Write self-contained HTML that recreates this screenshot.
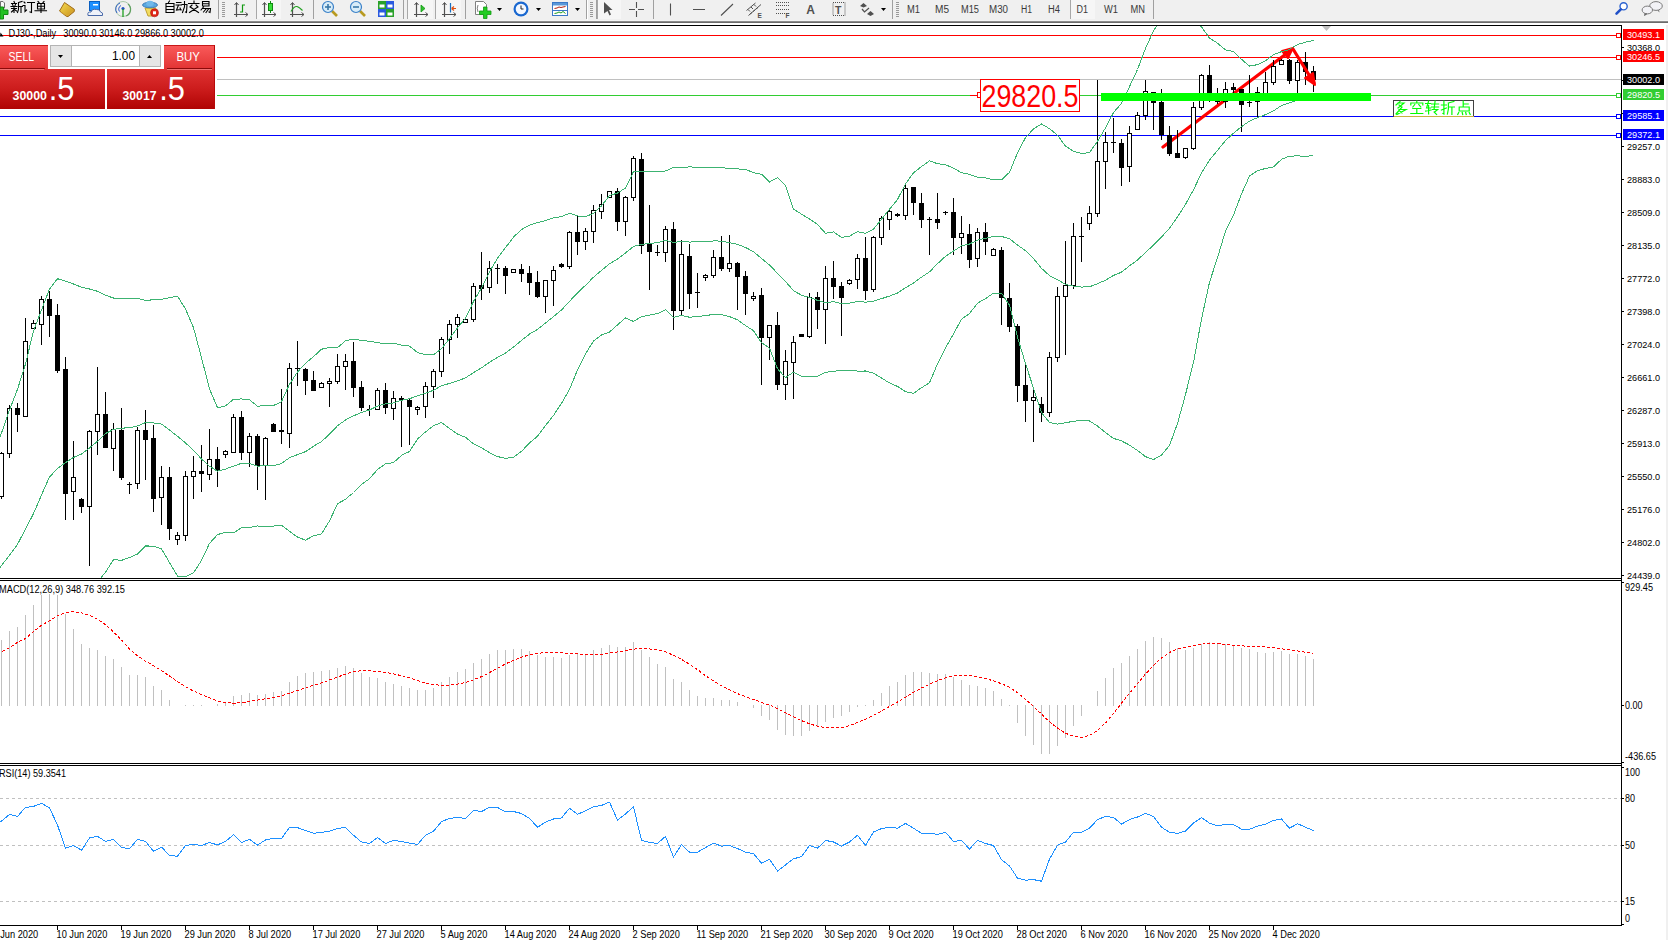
<!DOCTYPE html>
<html><head><meta charset="utf-8"><style>
html,body{margin:0;padding:0;background:#fff;}
svg{display:block;font-family:"Liberation Sans", sans-serif;}
</style></head><body>
<svg width="1668" height="940" viewBox="0 0 1668 940" shape-rendering="crispEdges">
<defs><clipPath id="mainclip"><rect x="0" y="26" width="1621" height="552"/></clipPath></defs>
<rect x="0" y="0" width="1668" height="940" fill="#ffffff" />
<g clip-path="url(#mainclip)">
<rect x="0" y="35" width="1621" height="1" fill="#ff0000" />
<rect x="0" y="57" width="1621" height="1" fill="#ff0000" />
<rect x="0" y="79" width="1621" height="1" fill="#c0c0c0" />
<rect x="0" y="95" width="1621" height="1" fill="#32cd32" />
<rect x="0" y="116" width="1621" height="1" fill="#0000ff" />
<rect x="0" y="135" width="1621" height="1" fill="#0000ff" />
<rect x="1616" y="33" width="5" height="5" fill="#ff0000" />
<rect x="1617" y="34" width="3" height="3" fill="#ffffff" />
<rect x="1616" y="55" width="5" height="5" fill="#ff0000" />
<rect x="1617" y="56" width="3" height="3" fill="#ffffff" />
<rect x="1616" y="93" width="5" height="5" fill="#32cd32" />
<rect x="1617" y="94" width="3" height="3" fill="#ffffff" />
<rect x="1616" y="114" width="5" height="5" fill="#0000ff" />
<rect x="1617" y="115" width="3" height="3" fill="#ffffff" />
<rect x="1616" y="133" width="5" height="5" fill="#0000ff" />
<rect x="1617" y="134" width="3" height="3" fill="#ffffff" />
<g shape-rendering="auto">
<path d="M1163,147 L1290,51" stroke="#ff0000" stroke-width="3.2" stroke-linecap="round" fill="none"/>
<path d="M1282,51 L1293,48 L1288,58 Z" fill="#ff0000" stroke="#ff0000" stroke-width="2" stroke-linejoin="round"/>
</g>
<rect x="1" y="452" width="1" height="47" fill="#000" />
<rect x="-1" y="453" width="5" height="44" fill="#000" />
<rect x="0" y="454" width="3" height="42" fill="#fff" />
<rect x="9" y="405" width="1" height="53" fill="#000" />
<rect x="7" y="408" width="5" height="46" fill="#000" />
<rect x="8" y="409" width="3" height="44" fill="#fff" />
<rect x="17" y="403" width="1" height="29" fill="#000" />
<rect x="15" y="408" width="5" height="7" fill="#000" />
<rect x="25" y="318" width="1" height="99" fill="#000" />
<rect x="23" y="341" width="5" height="76" fill="#000" />
<rect x="24" y="342" width="3" height="74" fill="#fff" />
<rect x="33" y="320" width="1" height="9" fill="#000" />
<rect x="31" y="323" width="5" height="6" fill="#000" />
<rect x="32" y="324" width="3" height="4" fill="#fff" />
<rect x="41" y="296" width="1" height="49" fill="#000" />
<rect x="39" y="299" width="5" height="26" fill="#000" />
<rect x="40" y="300" width="3" height="24" fill="#fff" />
<rect x="49" y="291" width="1" height="46" fill="#000" />
<rect x="47" y="299" width="5" height="17" fill="#000" />
<rect x="57" y="304" width="1" height="69" fill="#000" />
<rect x="55" y="315" width="5" height="56" fill="#000" />
<rect x="65" y="357" width="1" height="163" fill="#000" />
<rect x="63" y="369" width="5" height="125" fill="#000" />
<rect x="73" y="441" width="1" height="79" fill="#000" />
<rect x="71" y="477" width="5" height="15" fill="#000" />
<rect x="72" y="478" width="3" height="13" fill="#fff" />
<rect x="81" y="498" width="1" height="15" fill="#000" />
<rect x="79" y="499" width="5" height="8" fill="#000" />
<rect x="89" y="430" width="1" height="136" fill="#000" />
<rect x="87" y="431" width="5" height="76" fill="#000" />
<rect x="88" y="432" width="3" height="74" fill="#fff" />
<rect x="97" y="367" width="1" height="88" fill="#000" />
<rect x="95" y="414" width="5" height="18" fill="#000" />
<rect x="96" y="415" width="3" height="16" fill="#fff" />
<rect x="105" y="392" width="1" height="56" fill="#000" />
<rect x="103" y="414" width="5" height="34" fill="#000" />
<rect x="113" y="423" width="1" height="48" fill="#000" />
<rect x="111" y="429" width="5" height="20" fill="#000" />
<rect x="112" y="430" width="3" height="18" fill="#fff" />
<rect x="121" y="408" width="1" height="72" fill="#000" />
<rect x="119" y="430" width="5" height="48" fill="#000" />
<rect x="129" y="482" width="1" height="12" fill="#000" />
<rect x="127" y="484" width="5" height="1" fill="#000" />
<rect x="137" y="427" width="1" height="62" fill="#000" />
<rect x="135" y="430" width="5" height="54" fill="#000" />
<rect x="136" y="431" width="3" height="52" fill="#fff" />
<rect x="145" y="410" width="1" height="70" fill="#000" />
<rect x="143" y="430" width="5" height="10" fill="#000" />
<rect x="153" y="425" width="1" height="87" fill="#000" />
<rect x="151" y="438" width="5" height="61" fill="#000" />
<rect x="161" y="466" width="1" height="59" fill="#000" />
<rect x="159" y="477" width="5" height="21" fill="#000" />
<rect x="160" y="478" width="3" height="19" fill="#fff" />
<rect x="169" y="467" width="1" height="73" fill="#000" />
<rect x="167" y="477" width="5" height="52" fill="#000" />
<rect x="177" y="532" width="1" height="13" fill="#000" />
<rect x="175" y="535" width="5" height="5" fill="#000" />
<rect x="176" y="536" width="3" height="3" fill="#fff" />
<rect x="185" y="471" width="1" height="70" fill="#000" />
<rect x="183" y="476" width="5" height="60" fill="#000" />
<rect x="184" y="477" width="3" height="58" fill="#fff" />
<rect x="193" y="456" width="1" height="43" fill="#000" />
<rect x="191" y="471" width="5" height="6" fill="#000" />
<rect x="192" y="472" width="3" height="4" fill="#fff" />
<rect x="201" y="445" width="1" height="47" fill="#000" />
<rect x="199" y="471" width="5" height="3" fill="#000" />
<rect x="209" y="429" width="1" height="51" fill="#000" />
<rect x="207" y="459" width="5" height="16" fill="#000" />
<rect x="208" y="460" width="3" height="14" fill="#fff" />
<rect x="217" y="447" width="1" height="40" fill="#000" />
<rect x="215" y="459" width="5" height="11" fill="#000" />
<rect x="225" y="450" width="1" height="8" fill="#000" />
<rect x="223" y="451" width="5" height="4" fill="#000" />
<rect x="224" y="452" width="3" height="2" fill="#fff" />
<rect x="233" y="414" width="1" height="39" fill="#000" />
<rect x="231" y="417" width="5" height="36" fill="#000" />
<rect x="232" y="418" width="3" height="34" fill="#fff" />
<rect x="241" y="411" width="1" height="49" fill="#000" />
<rect x="239" y="417" width="5" height="36" fill="#000" />
<rect x="249" y="433" width="1" height="34" fill="#000" />
<rect x="247" y="436" width="5" height="17" fill="#000" />
<rect x="248" y="437" width="3" height="15" fill="#fff" />
<rect x="257" y="434" width="1" height="56" fill="#000" />
<rect x="255" y="436" width="5" height="30" fill="#000" />
<rect x="265" y="437" width="1" height="63" fill="#000" />
<rect x="263" y="438" width="5" height="28" fill="#000" />
<rect x="264" y="439" width="3" height="26" fill="#fff" />
<rect x="273" y="423" width="1" height="9" fill="#000" />
<rect x="271" y="424" width="5" height="8" fill="#000" />
<rect x="281" y="389" width="1" height="55" fill="#000" />
<rect x="279" y="430" width="5" height="2" fill="#000" />
<rect x="289" y="363" width="1" height="85" fill="#000" />
<rect x="287" y="368" width="5" height="66" fill="#000" />
<rect x="288" y="369" width="3" height="64" fill="#fff" />
<rect x="297" y="341" width="1" height="45" fill="#000" />
<rect x="295" y="368" width="5" height="1" fill="#000" />
<rect x="305" y="368" width="1" height="27" fill="#000" />
<rect x="303" y="369" width="5" height="12" fill="#000" />
<rect x="313" y="371" width="1" height="20" fill="#000" />
<rect x="311" y="380" width="5" height="11" fill="#000" />
<rect x="321" y="382" width="1" height="6" fill="#000" />
<rect x="319" y="383" width="5" height="5" fill="#000" />
<rect x="320" y="384" width="3" height="3" fill="#fff" />
<rect x="329" y="378" width="1" height="29" fill="#000" />
<rect x="327" y="381" width="5" height="3" fill="#000" />
<rect x="328" y="382" width="3" height="1" fill="#fff" />
<rect x="337" y="354" width="1" height="30" fill="#000" />
<rect x="335" y="366" width="5" height="16" fill="#000" />
<rect x="336" y="367" width="3" height="14" fill="#fff" />
<rect x="345" y="354" width="1" height="36" fill="#000" />
<rect x="343" y="361" width="5" height="6" fill="#000" />
<rect x="344" y="362" width="3" height="4" fill="#fff" />
<rect x="353" y="342" width="1" height="55" fill="#000" />
<rect x="351" y="361" width="5" height="27" fill="#000" />
<rect x="361" y="381" width="1" height="30" fill="#000" />
<rect x="359" y="387" width="5" height="21" fill="#000" />
<rect x="369" y="405" width="1" height="11" fill="#000" />
<rect x="367" y="409" width="5" height="1" fill="#000" />
<rect x="377" y="388" width="1" height="22" fill="#000" />
<rect x="375" y="390" width="5" height="20" fill="#000" />
<rect x="376" y="391" width="3" height="18" fill="#fff" />
<rect x="385" y="383" width="1" height="31" fill="#000" />
<rect x="383" y="390" width="5" height="18" fill="#000" />
<rect x="393" y="391" width="1" height="29" fill="#000" />
<rect x="391" y="398" width="5" height="11" fill="#000" />
<rect x="392" y="399" width="3" height="9" fill="#fff" />
<rect x="401" y="396" width="1" height="51" fill="#000" />
<rect x="399" y="398" width="5" height="2" fill="#000" />
<rect x="409" y="399" width="1" height="46" fill="#000" />
<rect x="407" y="400" width="5" height="7" fill="#000" />
<rect x="417" y="406" width="1" height="9" fill="#000" />
<rect x="415" y="407" width="5" height="3" fill="#000" />
<rect x="416" y="408" width="3" height="1" fill="#fff" />
<rect x="425" y="382" width="1" height="36" fill="#000" />
<rect x="423" y="386" width="5" height="21" fill="#000" />
<rect x="424" y="387" width="3" height="19" fill="#fff" />
<rect x="433" y="369" width="1" height="29" fill="#000" />
<rect x="431" y="371" width="5" height="16" fill="#000" />
<rect x="432" y="372" width="3" height="14" fill="#fff" />
<rect x="441" y="337" width="1" height="40" fill="#000" />
<rect x="439" y="339" width="5" height="33" fill="#000" />
<rect x="440" y="340" width="3" height="31" fill="#fff" />
<rect x="449" y="320" width="1" height="34" fill="#000" />
<rect x="447" y="324" width="5" height="16" fill="#000" />
<rect x="448" y="325" width="3" height="14" fill="#fff" />
<rect x="457" y="314" width="1" height="24" fill="#000" />
<rect x="455" y="317" width="5" height="8" fill="#000" />
<rect x="456" y="318" width="3" height="6" fill="#fff" />
<rect x="465" y="319" width="1" height="4" fill="#000" />
<rect x="463" y="319" width="5" height="4" fill="#000" />
<rect x="464" y="320" width="3" height="2" fill="#fff" />
<rect x="473" y="283" width="1" height="39" fill="#000" />
<rect x="471" y="286" width="5" height="34" fill="#000" />
<rect x="472" y="287" width="3" height="32" fill="#fff" />
<rect x="481" y="252" width="1" height="48" fill="#000" />
<rect x="479" y="285" width="5" height="4" fill="#000" />
<rect x="489" y="261" width="1" height="32" fill="#000" />
<rect x="487" y="268" width="5" height="20" fill="#000" />
<rect x="488" y="269" width="3" height="18" fill="#fff" />
<rect x="497" y="264" width="1" height="20" fill="#000" />
<rect x="495" y="268" width="5" height="1" fill="#000" />
<rect x="505" y="266" width="1" height="28" fill="#000" />
<rect x="503" y="268" width="5" height="8" fill="#000" />
<rect x="513" y="269" width="1" height="4" fill="#000" />
<rect x="511" y="269" width="5" height="4" fill="#000" />
<rect x="512" y="270" width="3" height="2" fill="#fff" />
<rect x="521" y="264" width="1" height="18" fill="#000" />
<rect x="519" y="269" width="5" height="5" fill="#000" />
<rect x="529" y="266" width="1" height="29" fill="#000" />
<rect x="527" y="273" width="5" height="10" fill="#000" />
<rect x="537" y="271" width="1" height="27" fill="#000" />
<rect x="535" y="282" width="5" height="15" fill="#000" />
<rect x="545" y="280" width="1" height="33" fill="#000" />
<rect x="543" y="280" width="5" height="17" fill="#000" />
<rect x="544" y="281" width="3" height="15" fill="#fff" />
<rect x="553" y="266" width="1" height="40" fill="#000" />
<rect x="551" y="270" width="5" height="11" fill="#000" />
<rect x="552" y="271" width="3" height="9" fill="#fff" />
<rect x="561" y="263" width="1" height="5" fill="#000" />
<rect x="559" y="264" width="5" height="3" fill="#000" />
<rect x="569" y="231" width="1" height="38" fill="#000" />
<rect x="567" y="232" width="5" height="35" fill="#000" />
<rect x="568" y="233" width="3" height="33" fill="#fff" />
<rect x="577" y="215" width="1" height="40" fill="#000" />
<rect x="575" y="232" width="5" height="10" fill="#000" />
<rect x="585" y="228" width="1" height="22" fill="#000" />
<rect x="583" y="231" width="5" height="11" fill="#000" />
<rect x="584" y="232" width="3" height="9" fill="#fff" />
<rect x="593" y="205" width="1" height="38" fill="#000" />
<rect x="591" y="210" width="5" height="22" fill="#000" />
<rect x="592" y="211" width="3" height="20" fill="#fff" />
<rect x="601" y="194" width="1" height="25" fill="#000" />
<rect x="599" y="204" width="5" height="8" fill="#000" />
<rect x="600" y="205" width="3" height="6" fill="#fff" />
<rect x="609" y="191" width="1" height="7" fill="#000" />
<rect x="607" y="191" width="5" height="7" fill="#000" />
<rect x="608" y="192" width="3" height="5" fill="#fff" />
<rect x="617" y="188" width="1" height="43" fill="#000" />
<rect x="615" y="191" width="5" height="31" fill="#000" />
<rect x="625" y="196" width="1" height="40" fill="#000" />
<rect x="623" y="197" width="5" height="25" fill="#000" />
<rect x="624" y="198" width="3" height="23" fill="#fff" />
<rect x="633" y="156" width="1" height="45" fill="#000" />
<rect x="631" y="158" width="5" height="40" fill="#000" />
<rect x="632" y="159" width="3" height="38" fill="#fff" />
<rect x="641" y="153" width="1" height="101" fill="#000" />
<rect x="639" y="159" width="5" height="87" fill="#000" />
<rect x="649" y="205" width="1" height="85" fill="#000" />
<rect x="647" y="244" width="5" height="8" fill="#000" />
<rect x="657" y="245" width="1" height="11" fill="#000" />
<rect x="655" y="252" width="5" height="1" fill="#000" />
<rect x="665" y="226" width="1" height="36" fill="#000" />
<rect x="663" y="229" width="5" height="24" fill="#000" />
<rect x="664" y="230" width="3" height="22" fill="#fff" />
<rect x="673" y="222" width="1" height="108" fill="#000" />
<rect x="671" y="229" width="5" height="82" fill="#000" />
<rect x="681" y="240" width="1" height="75" fill="#000" />
<rect x="679" y="254" width="5" height="57" fill="#000" />
<rect x="680" y="255" width="3" height="55" fill="#fff" />
<rect x="689" y="244" width="1" height="65" fill="#000" />
<rect x="687" y="256" width="5" height="38" fill="#000" />
<rect x="697" y="273" width="1" height="35" fill="#000" />
<rect x="695" y="292" width="5" height="1" fill="#000" />
<rect x="705" y="274" width="1" height="7" fill="#000" />
<rect x="703" y="275" width="5" height="3" fill="#000" />
<rect x="704" y="276" width="3" height="1" fill="#fff" />
<rect x="713" y="250" width="1" height="28" fill="#000" />
<rect x="711" y="257" width="5" height="19" fill="#000" />
<rect x="712" y="258" width="3" height="17" fill="#fff" />
<rect x="721" y="236" width="1" height="35" fill="#000" />
<rect x="719" y="257" width="5" height="12" fill="#000" />
<rect x="729" y="235" width="1" height="37" fill="#000" />
<rect x="727" y="263" width="5" height="6" fill="#000" />
<rect x="728" y="264" width="3" height="4" fill="#fff" />
<rect x="737" y="262" width="1" height="48" fill="#000" />
<rect x="735" y="263" width="5" height="14" fill="#000" />
<rect x="745" y="271" width="1" height="44" fill="#000" />
<rect x="743" y="276" width="5" height="18" fill="#000" />
<rect x="753" y="292" width="1" height="9" fill="#000" />
<rect x="751" y="296" width="5" height="3" fill="#000" />
<rect x="752" y="297" width="3" height="1" fill="#fff" />
<rect x="761" y="288" width="1" height="97" fill="#000" />
<rect x="759" y="295" width="5" height="43" fill="#000" />
<rect x="769" y="325" width="1" height="35" fill="#000" />
<rect x="767" y="325" width="5" height="13" fill="#000" />
<rect x="768" y="326" width="3" height="11" fill="#fff" />
<rect x="777" y="312" width="1" height="78" fill="#000" />
<rect x="775" y="325" width="5" height="60" fill="#000" />
<rect x="785" y="350" width="1" height="50" fill="#000" />
<rect x="783" y="361" width="5" height="24" fill="#000" />
<rect x="784" y="362" width="3" height="22" fill="#fff" />
<rect x="793" y="336" width="1" height="63" fill="#000" />
<rect x="791" y="342" width="5" height="21" fill="#000" />
<rect x="792" y="343" width="3" height="19" fill="#fff" />
<rect x="801" y="334" width="1" height="3" fill="#000" />
<rect x="799" y="334" width="5" height="3" fill="#000" />
<rect x="809" y="293" width="1" height="45" fill="#000" />
<rect x="807" y="297" width="5" height="40" fill="#000" />
<rect x="808" y="298" width="3" height="38" fill="#fff" />
<rect x="817" y="292" width="1" height="37" fill="#000" />
<rect x="815" y="297" width="5" height="13" fill="#000" />
<rect x="825" y="266" width="1" height="78" fill="#000" />
<rect x="823" y="278" width="5" height="32" fill="#000" />
<rect x="824" y="279" width="3" height="30" fill="#fff" />
<rect x="833" y="261" width="1" height="38" fill="#000" />
<rect x="831" y="278" width="5" height="9" fill="#000" />
<rect x="841" y="282" width="1" height="54" fill="#000" />
<rect x="839" y="286" width="5" height="12" fill="#000" />
<rect x="849" y="279" width="1" height="6" fill="#000" />
<rect x="847" y="280" width="5" height="4" fill="#000" />
<rect x="848" y="281" width="3" height="2" fill="#fff" />
<rect x="857" y="254" width="1" height="35" fill="#000" />
<rect x="855" y="258" width="5" height="22" fill="#000" />
<rect x="856" y="259" width="3" height="20" fill="#fff" />
<rect x="865" y="237" width="1" height="63" fill="#000" />
<rect x="863" y="258" width="5" height="33" fill="#000" />
<rect x="873" y="236" width="1" height="56" fill="#000" />
<rect x="871" y="237" width="5" height="53" fill="#000" />
<rect x="872" y="238" width="3" height="51" fill="#fff" />
<rect x="881" y="216" width="1" height="29" fill="#000" />
<rect x="879" y="218" width="5" height="20" fill="#000" />
<rect x="880" y="219" width="3" height="18" fill="#fff" />
<rect x="889" y="209" width="1" height="21" fill="#000" />
<rect x="887" y="211" width="5" height="9" fill="#000" />
<rect x="888" y="212" width="3" height="7" fill="#fff" />
<rect x="897" y="213" width="1" height="4" fill="#000" />
<rect x="895" y="214" width="5" height="2" fill="#000" />
<rect x="905" y="183" width="1" height="37" fill="#000" />
<rect x="903" y="188" width="5" height="28" fill="#000" />
<rect x="904" y="189" width="3" height="26" fill="#fff" />
<rect x="913" y="187" width="1" height="28" fill="#000" />
<rect x="911" y="187" width="5" height="16" fill="#000" />
<rect x="921" y="193" width="1" height="35" fill="#000" />
<rect x="919" y="203" width="5" height="17" fill="#000" />
<rect x="929" y="217" width="1" height="38" fill="#000" />
<rect x="927" y="219" width="5" height="1" fill="#000" />
<rect x="937" y="193" width="1" height="36" fill="#000" />
<rect x="935" y="219" width="5" height="4" fill="#000" />
<rect x="945" y="211" width="1" height="4" fill="#000" />
<rect x="943" y="212" width="5" height="1" fill="#000" />
<rect x="953" y="198" width="1" height="57" fill="#000" />
<rect x="951" y="212" width="5" height="26" fill="#000" />
<rect x="961" y="216" width="1" height="38" fill="#000" />
<rect x="959" y="233" width="5" height="5" fill="#000" />
<rect x="960" y="234" width="3" height="3" fill="#fff" />
<rect x="969" y="224" width="1" height="44" fill="#000" />
<rect x="967" y="234" width="5" height="26" fill="#000" />
<rect x="977" y="228" width="1" height="39" fill="#000" />
<rect x="975" y="232" width="5" height="27" fill="#000" />
<rect x="976" y="233" width="3" height="25" fill="#fff" />
<rect x="985" y="223" width="1" height="32" fill="#000" />
<rect x="983" y="232" width="5" height="10" fill="#000" />
<rect x="993" y="248" width="1" height="8" fill="#000" />
<rect x="991" y="249" width="5" height="7" fill="#000" />
<rect x="992" y="250" width="3" height="5" fill="#fff" />
<rect x="1001" y="247" width="1" height="78" fill="#000" />
<rect x="999" y="250" width="5" height="48" fill="#000" />
<rect x="1009" y="283" width="1" height="49" fill="#000" />
<rect x="1007" y="298" width="5" height="29" fill="#000" />
<rect x="1017" y="324" width="1" height="78" fill="#000" />
<rect x="1015" y="326" width="5" height="60" fill="#000" />
<rect x="1025" y="364" width="1" height="58" fill="#000" />
<rect x="1023" y="385" width="5" height="16" fill="#000" />
<rect x="1033" y="390" width="1" height="52" fill="#000" />
<rect x="1031" y="397" width="5" height="4" fill="#000" />
<rect x="1032" y="398" width="3" height="2" fill="#fff" />
<rect x="1041" y="397" width="1" height="25" fill="#000" />
<rect x="1039" y="404" width="5" height="9" fill="#000" />
<rect x="1049" y="352" width="1" height="65" fill="#000" />
<rect x="1047" y="357" width="5" height="56" fill="#000" />
<rect x="1048" y="358" width="3" height="54" fill="#fff" />
<rect x="1057" y="287" width="1" height="75" fill="#000" />
<rect x="1055" y="296" width="5" height="62" fill="#000" />
<rect x="1056" y="297" width="3" height="60" fill="#fff" />
<rect x="1065" y="241" width="1" height="114" fill="#000" />
<rect x="1063" y="285" width="5" height="12" fill="#000" />
<rect x="1064" y="286" width="3" height="10" fill="#fff" />
<rect x="1073" y="223" width="1" height="66" fill="#000" />
<rect x="1071" y="236" width="5" height="50" fill="#000" />
<rect x="1072" y="237" width="3" height="48" fill="#fff" />
<rect x="1081" y="217" width="1" height="45" fill="#000" />
<rect x="1079" y="236" width="5" height="1" fill="#000" />
<rect x="1089" y="206" width="1" height="24" fill="#000" />
<rect x="1087" y="213" width="5" height="11" fill="#000" />
<rect x="1088" y="214" width="3" height="9" fill="#fff" />
<rect x="1097" y="80" width="1" height="137" fill="#000" />
<rect x="1095" y="161" width="5" height="53" fill="#000" />
<rect x="1096" y="162" width="3" height="51" fill="#fff" />
<rect x="1105" y="132" width="1" height="57" fill="#000" />
<rect x="1103" y="142" width="5" height="20" fill="#000" />
<rect x="1104" y="143" width="3" height="18" fill="#fff" />
<rect x="1113" y="118" width="1" height="35" fill="#000" />
<rect x="1111" y="142" width="5" height="1" fill="#000" />
<rect x="1121" y="139" width="1" height="47" fill="#000" />
<rect x="1119" y="143" width="5" height="25" fill="#000" />
<rect x="1129" y="126" width="1" height="56" fill="#000" />
<rect x="1127" y="133" width="5" height="34" fill="#000" />
<rect x="1128" y="134" width="3" height="32" fill="#fff" />
<rect x="1137" y="112" width="1" height="18" fill="#000" />
<rect x="1135" y="115" width="5" height="15" fill="#000" />
<rect x="1136" y="116" width="3" height="13" fill="#fff" />
<rect x="1145" y="80" width="1" height="40" fill="#000" />
<rect x="1143" y="91" width="5" height="25" fill="#000" />
<rect x="1144" y="92" width="3" height="23" fill="#fff" />
<rect x="1153" y="92" width="1" height="38" fill="#000" />
<rect x="1151" y="92" width="5" height="11" fill="#000" />
<rect x="1161" y="89" width="1" height="51" fill="#000" />
<rect x="1159" y="102" width="5" height="33" fill="#000" />
<rect x="1169" y="126" width="1" height="30" fill="#000" />
<rect x="1167" y="135" width="5" height="19" fill="#000" />
<rect x="1177" y="130" width="1" height="28" fill="#000" />
<rect x="1175" y="153" width="5" height="5" fill="#000" />
<rect x="1185" y="148" width="1" height="11" fill="#000" />
<rect x="1183" y="148" width="5" height="10" fill="#000" />
<rect x="1184" y="149" width="3" height="8" fill="#fff" />
<rect x="1193" y="102" width="1" height="48" fill="#000" />
<rect x="1191" y="107" width="5" height="42" fill="#000" />
<rect x="1192" y="108" width="3" height="40" fill="#fff" />
<rect x="1201" y="74" width="1" height="36" fill="#000" />
<rect x="1199" y="75" width="5" height="33" fill="#000" />
<rect x="1200" y="76" width="3" height="31" fill="#fff" />
<rect x="1209" y="65" width="1" height="37" fill="#000" />
<rect x="1207" y="75" width="5" height="26" fill="#000" />
<rect x="1217" y="88" width="1" height="16" fill="#000" />
<rect x="1215" y="95" width="5" height="7" fill="#000" />
<rect x="1225" y="82" width="1" height="26" fill="#000" />
<rect x="1223" y="89" width="5" height="13" fill="#000" />
<rect x="1224" y="90" width="3" height="11" fill="#fff" />
<rect x="1233" y="83" width="1" height="12" fill="#000" />
<rect x="1231" y="87" width="5" height="3" fill="#000" />
<rect x="1241" y="89" width="1" height="43" fill="#000" />
<rect x="1239" y="89" width="5" height="16" fill="#000" />
<rect x="1249" y="75" width="1" height="32" fill="#000" />
<rect x="1247" y="102" width="5" height="1" fill="#000" />
<rect x="1257" y="87" width="1" height="30" fill="#000" />
<rect x="1255" y="92" width="5" height="10" fill="#000" />
<rect x="1256" y="93" width="3" height="8" fill="#fff" />
<rect x="1265" y="72" width="1" height="29" fill="#000" />
<rect x="1263" y="82" width="5" height="13" fill="#000" />
<rect x="1264" y="83" width="3" height="11" fill="#fff" />
<rect x="1273" y="60" width="1" height="25" fill="#000" />
<rect x="1271" y="66" width="5" height="17" fill="#000" />
<rect x="1272" y="67" width="3" height="15" fill="#fff" />
<rect x="1281" y="59" width="1" height="6" fill="#000" />
<rect x="1279" y="60" width="5" height="5" fill="#000" />
<rect x="1280" y="61" width="3" height="3" fill="#fff" />
<rect x="1289" y="59" width="1" height="25" fill="#000" />
<rect x="1287" y="60" width="5" height="21" fill="#000" />
<rect x="1297" y="60" width="1" height="33" fill="#000" />
<rect x="1295" y="62" width="5" height="19" fill="#000" />
<rect x="1296" y="63" width="3" height="17" fill="#fff" />
<rect x="1305" y="52" width="1" height="33" fill="#000" />
<rect x="1303" y="62" width="5" height="10" fill="#000" />
<rect x="1313" y="66" width="1" height="26" fill="#000" />
<rect x="1311" y="71" width="5" height="9" fill="#000" />
<polyline points="-6.50,456.00 1.50,433.00 9.50,410.00 17.50,389.30 25.50,364.00 33.50,331.00 41.50,310.00 49.50,289.00 57.50,278.70 65.50,281.20 73.50,284.00 81.50,287.20 89.50,289.00 97.50,291.30 105.50,295.30 113.50,298.00 121.50,298.00 129.50,298.00 137.50,298.40 145.50,300.40 153.50,299.77 161.50,299.35 169.50,297.62 177.50,296.23 185.50,309.00 193.50,327.73 201.50,357.61 209.50,389.04 217.50,407.70 225.50,405.92 233.50,399.22 241.50,398.95 249.50,399.66 257.50,406.31 265.50,405.18 273.50,405.51 281.50,401.68 289.50,384.19 297.50,372.08 305.50,363.18 313.50,356.70 321.50,349.23 329.50,347.51 337.50,347.68 345.50,340.80 353.50,339.10 361.50,340.48 369.50,341.28 377.50,342.59 385.50,343.89 393.50,343.23 401.50,345.09 409.50,346.04 417.50,352.61 425.50,354.57 433.50,354.73 441.50,348.88 449.50,338.49 457.50,327.79 465.50,318.37 473.50,301.47 481.50,288.09 489.50,271.80 497.50,258.16 505.50,247.69 513.50,237.06 521.50,229.56 529.50,225.22 537.50,222.57 545.50,220.53 553.50,217.86 561.50,216.66 569.50,213.27 577.50,215.98 585.50,216.69 593.50,213.40 601.50,205.88 609.50,195.57 617.50,193.09 625.50,187.94 633.50,171.59 641.50,171.96 649.50,171.86 657.50,171.85 665.50,170.98 673.50,167.51 681.50,167.69 689.50,166.87 697.50,167.24 705.50,167.47 713.50,167.62 721.50,167.58 729.50,168.61 737.50,168.91 745.50,169.33 753.50,172.77 761.50,174.23 769.50,181.97 777.50,177.77 785.50,185.24 793.50,209.16 801.50,214.14 809.50,218.96 817.50,224.46 825.50,233.32 833.50,231.87 841.50,237.39 849.50,236.10 857.50,231.74 865.50,233.30 873.50,229.22 881.50,219.27 889.50,209.18 897.50,199.56 905.50,183.81 913.50,172.80 921.50,166.56 929.50,160.88 937.50,163.74 945.50,164.68 953.50,168.18 961.50,172.67 969.50,174.34 977.50,177.20 985.50,177.85 993.50,179.87 1001.50,179.87 1009.50,172.31 1017.50,153.00 1025.50,137.56 1033.50,128.97 1041.50,123.93 1049.50,128.71 1057.50,135.17 1065.50,146.20 1073.50,151.18 1081.50,153.51 1089.50,152.58 1097.50,141.31 1105.50,127.88 1113.50,112.55 1121.50,103.41 1129.50,86.61 1137.50,69.50 1145.50,48.36 1153.50,30.78 1161.50,18.85 1169.50,11.36 1177.50,10.48 1185.50,14.11 1193.50,17.32 1201.50,26.95 1209.50,38.03 1217.50,43.15 1225.50,49.99 1233.50,51.54 1241.50,59.30 1249.50,66.14 1257.50,64.64 1265.50,60.82 1273.50,54.73 1281.50,51.65 1289.50,49.56 1297.50,44.48 1305.50,42.18 1313.50,40.42" fill="none" stroke="#3cb371" stroke-width="1" />
<polyline points="-6.50,576.00 1.50,565.50 9.50,555.30 17.50,544.30 25.50,529.00 33.50,513.60 41.50,495.00 49.50,477.00 57.50,468.50 65.50,462.60 73.50,457.40 81.50,454.00 89.50,448.00 97.50,441.30 105.50,433.60 113.50,429.40 121.50,428.20 129.50,427.70 137.50,426.00 145.50,422.60 153.50,422.90 161.50,424.10 169.50,430.10 177.50,436.15 185.50,442.90 193.50,450.30 201.50,459.00 209.50,466.20 217.50,471.15 225.50,469.05 233.50,466.05 241.50,463.35 249.50,463.60 257.50,466.15 265.50,465.70 273.50,465.80 281.50,463.50 289.50,457.70 297.50,454.60 305.50,451.65 313.50,446.25 321.50,441.55 329.50,434.20 337.50,425.75 345.50,420.00 353.50,415.80 361.50,412.50 369.50,410.00 377.50,406.05 385.50,403.85 393.50,402.90 401.50,400.25 409.50,398.75 417.50,395.85 425.50,393.25 433.50,390.25 441.50,385.65 449.50,383.45 457.50,380.90 465.50,377.85 473.50,372.65 481.50,367.90 489.50,362.25 497.50,357.35 505.50,353.05 513.50,347.15 521.50,340.45 529.50,334.10 537.50,329.40 545.50,323.05 553.50,316.65 561.50,310.00 569.50,301.30 577.50,293.00 585.50,285.25 593.50,277.20 601.50,270.45 609.50,263.80 617.50,259.00 625.50,252.90 633.50,246.50 641.50,244.35 649.50,243.50 657.50,242.70 665.50,240.40 673.50,242.45 681.50,241.50 689.50,242.05 697.50,241.85 705.50,241.60 713.50,240.95 721.50,241.05 729.50,242.60 737.50,244.35 745.50,247.45 753.50,251.75 761.50,258.40 769.50,265.10 777.50,273.25 785.50,281.45 793.50,290.65 801.50,295.20 809.50,297.50 817.50,300.35 825.50,302.80 833.50,301.60 841.50,303.75 849.50,303.10 857.50,301.40 865.50,302.15 873.50,301.15 881.50,298.65 889.50,296.05 897.50,293.00 905.50,287.75 913.50,283.05 921.50,277.15 929.50,271.85 937.50,263.75 945.50,256.30 953.50,251.05 961.50,245.90 969.50,244.00 977.50,240.15 985.50,238.30 993.50,236.45 1001.50,236.45 1009.50,238.75 1017.50,245.10 1025.50,250.60 1033.50,258.60 1041.50,268.30 1049.50,275.60 1057.50,279.65 1065.50,284.50 1073.50,286.20 1081.50,287.05 1089.50,286.75 1097.50,283.70 1105.50,280.20 1113.50,275.45 1121.50,272.15 1129.50,265.85 1137.50,260.00 1145.50,252.50 1153.50,245.15 1161.50,237.00 1169.50,228.35 1177.50,216.95 1185.50,204.35 1193.50,189.85 1201.50,173.00 1209.50,160.15 1217.50,150.40 1225.50,140.60 1233.50,133.25 1241.50,126.65 1249.50,121.10 1257.50,117.65 1265.50,114.65 1273.50,110.85 1281.50,105.50 1289.50,102.85 1297.50,100.20 1305.50,99.20 1313.50,98.05" fill="none" stroke="#3cb371" stroke-width="1" />
<polyline points="97.50,582.00 105.50,572.30 113.50,559.60 121.50,560.40 129.50,557.50 137.50,554.00 145.50,546.00 153.50,546.03 161.50,548.85 169.50,562.58 177.50,576.07 185.50,576.80 193.50,572.87 201.50,560.39 209.50,543.36 217.50,534.60 225.50,532.18 233.50,532.88 241.50,527.75 249.50,527.54 257.50,525.99 265.50,526.22 273.50,526.09 281.50,525.32 289.50,531.21 297.50,537.12 305.50,540.12 313.50,535.80 321.50,533.87 329.50,520.89 337.50,503.82 345.50,499.20 353.50,492.50 361.50,484.52 369.50,478.72 377.50,469.51 385.50,463.81 393.50,462.57 401.50,455.41 409.50,451.46 417.50,439.09 425.50,431.93 433.50,425.77 441.50,422.42 449.50,428.41 457.50,434.01 465.50,437.33 473.50,443.83 481.50,447.71 489.50,452.70 497.50,456.54 505.50,458.41 513.50,457.24 521.50,451.34 529.50,442.98 537.50,436.23 545.50,425.57 553.50,415.44 561.50,403.34 569.50,389.33 577.50,370.02 585.50,353.81 593.50,341.00 601.50,335.02 609.50,332.03 617.50,324.91 625.50,317.86 633.50,321.41 641.50,316.74 649.50,315.14 657.50,313.55 665.50,309.82 673.50,317.39 681.50,315.31 689.50,317.23 697.50,316.46 705.50,315.73 713.50,314.28 721.50,314.52 729.50,316.59 737.50,319.79 745.50,325.57 753.50,330.73 761.50,342.57 769.50,348.23 777.50,368.73 785.50,377.66 793.50,372.14 801.50,376.26 809.50,376.04 817.50,376.24 825.50,372.28 833.50,371.33 841.50,370.11 849.50,370.10 857.50,371.06 865.50,371.00 873.50,373.08 881.50,378.03 889.50,382.92 897.50,386.44 905.50,391.69 913.50,393.30 921.50,387.74 929.50,382.82 937.50,363.76 945.50,347.92 953.50,333.92 961.50,319.13 969.50,313.66 977.50,303.10 985.50,298.75 993.50,293.03 1001.50,293.03 1009.50,305.19 1017.50,337.20 1025.50,363.64 1033.50,388.23 1041.50,412.67 1049.50,422.49 1057.50,424.13 1065.50,422.80 1073.50,421.22 1081.50,420.59 1089.50,420.92 1097.50,426.09 1105.50,432.52 1113.50,438.35 1121.50,440.89 1129.50,445.09 1137.50,450.50 1145.50,456.64 1153.50,459.52 1161.50,455.15 1169.50,445.34 1177.50,423.42 1185.50,394.59 1193.50,362.38 1201.50,319.05 1209.50,282.27 1217.50,257.65 1225.50,231.21 1233.50,214.96 1241.50,194.00 1249.50,176.06 1257.50,170.66 1265.50,168.48 1273.50,166.97 1281.50,159.35 1289.50,156.14 1297.50,155.92 1305.50,156.22 1313.50,155.68" fill="none" stroke="#3cb371" stroke-width="1" />
</g>
<rect x="1" y="640" width="1" height="66" fill="#c0c0c0" />
<rect x="9" y="631" width="1" height="75" fill="#c0c0c0" />
<rect x="17" y="627" width="1" height="79" fill="#c0c0c0" />
<rect x="25" y="615" width="1" height="91" fill="#c0c0c0" />
<rect x="33" y="605" width="1" height="101" fill="#c0c0c0" />
<rect x="41" y="595" width="1" height="111" fill="#c0c0c0" />
<rect x="49" y="594" width="1" height="112" fill="#c0c0c0" />
<rect x="57" y="595" width="1" height="111" fill="#c0c0c0" />
<rect x="65" y="614" width="1" height="92" fill="#c0c0c0" />
<rect x="73" y="629" width="1" height="77" fill="#c0c0c0" />
<rect x="81" y="644" width="1" height="62" fill="#c0c0c0" />
<rect x="89" y="648" width="1" height="58" fill="#c0c0c0" />
<rect x="97" y="650" width="1" height="56" fill="#c0c0c0" />
<rect x="105" y="656" width="1" height="50" fill="#c0c0c0" />
<rect x="113" y="659" width="1" height="47" fill="#c0c0c0" />
<rect x="121" y="667" width="1" height="39" fill="#c0c0c0" />
<rect x="129" y="675" width="1" height="31" fill="#c0c0c0" />
<rect x="137" y="675" width="1" height="31" fill="#c0c0c0" />
<rect x="145" y="677" width="1" height="29" fill="#c0c0c0" />
<rect x="153" y="686" width="1" height="20" fill="#c0c0c0" />
<rect x="161" y="690" width="1" height="16" fill="#c0c0c0" />
<rect x="169" y="700" width="1" height="6" fill="#c0c0c0" />
<rect x="185" y="705" width="1" height="1" fill="#c0c0c0" />
<rect x="193" y="705" width="1" height="1" fill="#c0c0c0" />
<rect x="201" y="705" width="1" height="1" fill="#c0c0c0" />
<rect x="217" y="704" width="1" height="2" fill="#c0c0c0" />
<rect x="225" y="702" width="1" height="4" fill="#c0c0c0" />
<rect x="233" y="696" width="1" height="10" fill="#c0c0c0" />
<rect x="241" y="695" width="1" height="11" fill="#c0c0c0" />
<rect x="249" y="693" width="1" height="13" fill="#c0c0c0" />
<rect x="257" y="695" width="1" height="11" fill="#c0c0c0" />
<rect x="265" y="694" width="1" height="12" fill="#c0c0c0" />
<rect x="273" y="692" width="1" height="14" fill="#c0c0c0" />
<rect x="281" y="691" width="1" height="15" fill="#c0c0c0" />
<rect x="289" y="682" width="1" height="24" fill="#c0c0c0" />
<rect x="297" y="676" width="1" height="30" fill="#c0c0c0" />
<rect x="305" y="673" width="1" height="33" fill="#c0c0c0" />
<rect x="313" y="672" width="1" height="34" fill="#c0c0c0" />
<rect x="321" y="671" width="1" height="35" fill="#c0c0c0" />
<rect x="329" y="670" width="1" height="36" fill="#c0c0c0" />
<rect x="337" y="668" width="1" height="38" fill="#c0c0c0" />
<rect x="345" y="666" width="1" height="40" fill="#c0c0c0" />
<rect x="353" y="668" width="1" height="38" fill="#c0c0c0" />
<rect x="361" y="673" width="1" height="33" fill="#c0c0c0" />
<rect x="369" y="677" width="1" height="29" fill="#c0c0c0" />
<rect x="377" y="678" width="1" height="28" fill="#c0c0c0" />
<rect x="385" y="682" width="1" height="24" fill="#c0c0c0" />
<rect x="393" y="684" width="1" height="22" fill="#c0c0c0" />
<rect x="401" y="686" width="1" height="20" fill="#c0c0c0" />
<rect x="409" y="688" width="1" height="18" fill="#c0c0c0" />
<rect x="417" y="690" width="1" height="16" fill="#c0c0c0" />
<rect x="425" y="690" width="1" height="16" fill="#c0c0c0" />
<rect x="433" y="688" width="1" height="18" fill="#c0c0c0" />
<rect x="441" y="682" width="1" height="24" fill="#c0c0c0" />
<rect x="449" y="677" width="1" height="29" fill="#c0c0c0" />
<rect x="457" y="672" width="1" height="34" fill="#c0c0c0" />
<rect x="465" y="669" width="1" height="37" fill="#c0c0c0" />
<rect x="473" y="663" width="1" height="43" fill="#c0c0c0" />
<rect x="481" y="659" width="1" height="47" fill="#c0c0c0" />
<rect x="489" y="654" width="1" height="52" fill="#c0c0c0" />
<rect x="497" y="650" width="1" height="56" fill="#c0c0c0" />
<rect x="505" y="650" width="1" height="56" fill="#c0c0c0" />
<rect x="513" y="649" width="1" height="57" fill="#c0c0c0" />
<rect x="521" y="649" width="1" height="57" fill="#c0c0c0" />
<rect x="529" y="651" width="1" height="55" fill="#c0c0c0" />
<rect x="537" y="655" width="1" height="51" fill="#c0c0c0" />
<rect x="545" y="657" width="1" height="49" fill="#c0c0c0" />
<rect x="553" y="657" width="1" height="49" fill="#c0c0c0" />
<rect x="561" y="658" width="1" height="48" fill="#c0c0c0" />
<rect x="569" y="655" width="1" height="51" fill="#c0c0c0" />
<rect x="577" y="654" width="1" height="52" fill="#c0c0c0" />
<rect x="585" y="654" width="1" height="52" fill="#c0c0c0" />
<rect x="593" y="650" width="1" height="56" fill="#c0c0c0" />
<rect x="601" y="648" width="1" height="58" fill="#c0c0c0" />
<rect x="609" y="645" width="1" height="61" fill="#c0c0c0" />
<rect x="617" y="647" width="1" height="59" fill="#c0c0c0" />
<rect x="625" y="647" width="1" height="59" fill="#c0c0c0" />
<rect x="633" y="642" width="1" height="64" fill="#c0c0c0" />
<rect x="641" y="650" width="1" height="56" fill="#c0c0c0" />
<rect x="649" y="657" width="1" height="49" fill="#c0c0c0" />
<rect x="657" y="664" width="1" height="42" fill="#c0c0c0" />
<rect x="665" y="667" width="1" height="39" fill="#c0c0c0" />
<rect x="673" y="679" width="1" height="27" fill="#c0c0c0" />
<rect x="681" y="682" width="1" height="24" fill="#c0c0c0" />
<rect x="689" y="690" width="1" height="16" fill="#c0c0c0" />
<rect x="697" y="696" width="1" height="10" fill="#c0c0c0" />
<rect x="705" y="698" width="1" height="8" fill="#c0c0c0" />
<rect x="713" y="698" width="1" height="8" fill="#c0c0c0" />
<rect x="721" y="700" width="1" height="6" fill="#c0c0c0" />
<rect x="729" y="700" width="1" height="6" fill="#c0c0c0" />
<rect x="737" y="702" width="1" height="4" fill="#c0c0c0" />
<rect x="753" y="705" width="1" height="3" fill="#c0c0c0" />
<rect x="761" y="705" width="1" height="11" fill="#c0c0c0" />
<rect x="769" y="705" width="1" height="15" fill="#c0c0c0" />
<rect x="777" y="705" width="1" height="25" fill="#c0c0c0" />
<rect x="785" y="705" width="1" height="30" fill="#c0c0c0" />
<rect x="793" y="705" width="1" height="31" fill="#c0c0c0" />
<rect x="801" y="705" width="1" height="31" fill="#c0c0c0" />
<rect x="809" y="705" width="1" height="26" fill="#c0c0c0" />
<rect x="817" y="705" width="1" height="22" fill="#c0c0c0" />
<rect x="825" y="705" width="1" height="17" fill="#c0c0c0" />
<rect x="833" y="705" width="1" height="13" fill="#c0c0c0" />
<rect x="841" y="705" width="1" height="11" fill="#c0c0c0" />
<rect x="849" y="705" width="1" height="7" fill="#c0c0c0" />
<rect x="857" y="705" width="1" height="2" fill="#c0c0c0" />
<rect x="865" y="705" width="1" height="1" fill="#c0c0c0" />
<rect x="873" y="700" width="1" height="6" fill="#c0c0c0" />
<rect x="881" y="693" width="1" height="13" fill="#c0c0c0" />
<rect x="889" y="686" width="1" height="20" fill="#c0c0c0" />
<rect x="897" y="682" width="1" height="24" fill="#c0c0c0" />
<rect x="905" y="675" width="1" height="31" fill="#c0c0c0" />
<rect x="913" y="672" width="1" height="34" fill="#c0c0c0" />
<rect x="921" y="672" width="1" height="34" fill="#c0c0c0" />
<rect x="929" y="673" width="1" height="33" fill="#c0c0c0" />
<rect x="937" y="674" width="1" height="32" fill="#c0c0c0" />
<rect x="945" y="674" width="1" height="32" fill="#c0c0c0" />
<rect x="953" y="677" width="1" height="29" fill="#c0c0c0" />
<rect x="961" y="680" width="1" height="26" fill="#c0c0c0" />
<rect x="969" y="685" width="1" height="21" fill="#c0c0c0" />
<rect x="977" y="686" width="1" height="20" fill="#c0c0c0" />
<rect x="985" y="688" width="1" height="18" fill="#c0c0c0" />
<rect x="993" y="691" width="1" height="15" fill="#c0c0c0" />
<rect x="1001" y="699" width="1" height="7" fill="#c0c0c0" />
<rect x="1009" y="705" width="1" height="1" fill="#c0c0c0" />
<rect x="1017" y="705" width="1" height="18" fill="#c0c0c0" />
<rect x="1025" y="705" width="1" height="31" fill="#c0c0c0" />
<rect x="1033" y="705" width="1" height="40" fill="#c0c0c0" />
<rect x="1041" y="705" width="1" height="49" fill="#c0c0c0" />
<rect x="1049" y="705" width="1" height="49" fill="#c0c0c0" />
<rect x="1057" y="705" width="1" height="41" fill="#c0c0c0" />
<rect x="1065" y="705" width="1" height="33" fill="#c0c0c0" />
<rect x="1073" y="705" width="1" height="21" fill="#c0c0c0" />
<rect x="1081" y="705" width="1" height="11" fill="#c0c0c0" />
<rect x="1097" y="691" width="1" height="15" fill="#c0c0c0" />
<rect x="1105" y="678" width="1" height="28" fill="#c0c0c0" />
<rect x="1113" y="668" width="1" height="38" fill="#c0c0c0" />
<rect x="1121" y="663" width="1" height="43" fill="#c0c0c0" />
<rect x="1129" y="656" width="1" height="50" fill="#c0c0c0" />
<rect x="1137" y="649" width="1" height="57" fill="#c0c0c0" />
<rect x="1145" y="641" width="1" height="65" fill="#c0c0c0" />
<rect x="1153" y="637" width="1" height="69" fill="#c0c0c0" />
<rect x="1161" y="638" width="1" height="68" fill="#c0c0c0" />
<rect x="1169" y="642" width="1" height="64" fill="#c0c0c0" />
<rect x="1177" y="648" width="1" height="58" fill="#c0c0c0" />
<rect x="1185" y="650" width="1" height="56" fill="#c0c0c0" />
<rect x="1193" y="648" width="1" height="58" fill="#c0c0c0" />
<rect x="1201" y="644" width="1" height="62" fill="#c0c0c0" />
<rect x="1209" y="642" width="1" height="64" fill="#c0c0c0" />
<rect x="1217" y="643" width="1" height="63" fill="#c0c0c0" />
<rect x="1225" y="644" width="1" height="62" fill="#c0c0c0" />
<rect x="1233" y="645" width="1" height="61" fill="#c0c0c0" />
<rect x="1241" y="648" width="1" height="58" fill="#c0c0c0" />
<rect x="1249" y="649" width="1" height="57" fill="#c0c0c0" />
<rect x="1257" y="652" width="1" height="54" fill="#c0c0c0" />
<rect x="1265" y="653" width="1" height="53" fill="#c0c0c0" />
<rect x="1273" y="652" width="1" height="54" fill="#c0c0c0" />
<rect x="1281" y="651" width="1" height="55" fill="#c0c0c0" />
<rect x="1289" y="654" width="1" height="52" fill="#c0c0c0" />
<rect x="1297" y="654" width="1" height="52" fill="#c0c0c0" />
<rect x="1305" y="656" width="1" height="50" fill="#c0c0c0" />
<rect x="1313" y="659" width="1" height="47" fill="#c0c0c0" />
<polyline points="-6.50,656.50 1.50,651.90 9.50,647.90 17.50,642.30 25.50,638.50 33.50,631.50 41.50,625.30 49.50,620.70 57.50,615.60 65.50,612.79 73.50,611.52 81.50,612.91 89.50,615.19 97.50,619.10 105.50,624.78 113.50,631.90 121.50,640.06 129.50,648.94 137.50,655.73 145.50,661.09 153.50,665.80 161.50,670.51 169.50,676.03 177.50,681.48 185.50,686.70 193.50,691.04 201.50,694.50 209.50,697.84 217.50,700.82 225.50,702.57 233.50,703.23 241.50,702.71 249.50,701.38 257.50,700.16 265.50,698.82 273.50,697.27 281.50,695.71 289.50,693.28 297.50,690.41 305.50,687.84 313.50,685.28 321.50,682.82 329.50,680.03 337.50,677.13 345.50,674.23 353.50,671.67 361.50,670.68 369.50,670.79 377.50,671.34 385.50,672.44 393.50,673.90 401.50,675.69 409.50,677.92 417.50,680.60 425.50,683.06 433.50,684.73 441.50,685.28 449.50,685.17 457.50,684.07 465.50,682.39 473.50,679.82 481.50,676.60 489.50,672.60 497.50,668.16 505.50,663.93 513.50,660.29 521.50,657.19 529.50,654.87 537.50,653.32 545.50,652.67 553.50,652.44 561.50,652.89 569.50,653.44 577.50,653.89 585.50,654.44 593.50,654.56 601.50,654.22 609.50,653.11 617.50,652.00 625.50,650.89 633.50,649.11 641.50,648.56 649.50,648.89 657.50,650.00 665.50,651.88 673.50,655.31 681.50,659.40 689.50,664.16 697.50,669.58 705.50,675.78 713.50,681.09 721.50,685.83 729.50,689.80 737.50,693.67 745.50,696.62 753.50,699.50 761.50,702.38 769.50,705.02 777.50,708.56 785.50,712.64 793.50,716.62 801.50,720.60 809.50,723.81 817.50,726.22 825.50,727.77 833.50,727.98 841.50,727.54 849.50,725.56 857.50,722.48 865.50,719.20 873.50,715.22 881.50,711.04 889.50,706.47 897.50,702.04 905.50,697.30 913.50,692.43 921.50,688.01 929.50,684.23 937.50,680.67 945.50,677.80 953.50,676.01 961.50,675.34 969.50,675.69 977.50,676.92 985.50,678.69 993.50,680.82 1001.50,683.71 1009.50,687.28 1017.50,692.72 1025.50,699.28 1033.50,706.48 1041.50,714.12 1049.50,721.64 1057.50,728.10 1065.50,733.28 1073.50,736.23 1081.50,737.29 1089.50,735.36 1097.50,730.38 1105.50,722.93 1113.50,713.39 1121.50,703.31 1129.50,693.33 1137.50,683.48 1145.50,674.11 1153.50,665.37 1161.50,657.86 1169.50,652.39 1177.50,649.13 1185.50,647.17 1193.50,645.49 1201.50,644.16 1209.50,643.41 1217.50,643.66 1225.50,644.51 1233.50,645.30 1241.50,645.97 1249.50,646.07 1257.50,646.31 1265.50,646.88 1273.50,647.79 1281.50,648.78 1289.50,649.94 1297.50,650.99 1305.50,652.17 1313.50,653.40" fill="none" stroke="#ff0000" stroke-width="1" stroke-dasharray="3,2"/>
<line x1="0" y1="798.5" x2="1621" y2="798.5" stroke="#c0c0c0" stroke-width="1" stroke-dasharray="3,3"/>
<line x1="0" y1="845.5" x2="1621" y2="845.5" stroke="#c0c0c0" stroke-width="1" stroke-dasharray="3,3"/>
<line x1="0" y1="901.5" x2="1621" y2="901.5" stroke="#c0c0c0" stroke-width="1" stroke-dasharray="3,3"/>
<polyline points="-6.50,826.50 1.50,821.00 9.50,814.50 17.50,816.40 25.50,807.40 33.50,806.40 41.50,803.30 49.50,807.80 57.50,825.10 65.50,848.20 73.50,845.50 81.50,850.20 89.50,838.00 97.50,836.30 105.50,841.40 113.50,839.40 121.50,847.60 129.50,848.60 137.50,839.40 145.50,841.40 153.50,851.20 161.50,847.10 169.50,855.30 177.50,856.30 185.50,845.50 193.50,844.50 201.50,845.50 209.50,842.50 217.50,844.90 225.50,841.40 233.50,834.70 241.50,842.50 249.50,839.40 257.50,845.10 265.50,840.00 273.50,838.40 281.50,838.40 289.50,827.60 297.50,827.60 305.50,830.60 313.50,833.30 321.50,832.30 329.50,831.20 337.50,828.60 345.50,827.20 353.50,835.30 361.50,842.00 369.50,843.50 377.50,837.40 385.50,843.50 393.50,840.40 401.50,841.40 409.50,843.10 417.50,844.50 425.50,835.30 433.50,831.20 441.50,821.70 449.50,818.40 457.50,817.60 465.50,818.40 473.50,810.30 481.50,811.50 489.50,807.40 497.50,807.40 505.50,811.90 513.50,811.50 521.50,813.50 529.50,818.40 537.50,827.20 545.50,822.10 553.50,819.00 561.50,818.00 569.50,808.20 577.50,814.30 585.50,810.90 593.50,806.80 601.50,805.40 609.50,802.10 617.50,820.00 625.50,813.90 633.50,806.80 641.50,840.40 649.50,842.50 657.50,843.50 665.50,836.30 673.50,857.10 681.50,844.50 689.50,852.20 697.50,852.20 705.50,847.60 713.50,843.10 721.50,846.10 729.50,845.50 737.50,848.60 745.50,852.20 753.50,853.70 761.50,863.20 769.50,859.20 777.50,871.00 785.50,864.90 793.50,858.80 801.50,856.70 809.50,845.50 817.50,848.20 825.50,840.40 833.50,842.00 841.50,846.10 849.50,842.00 857.50,835.30 865.50,845.50 873.50,831.90 881.50,828.60 889.50,827.20 897.50,828.20 905.50,823.50 913.50,828.20 921.50,833.30 929.50,833.30 937.50,834.30 945.50,832.30 953.50,841.40 961.50,840.40 969.50,849.00 977.50,840.40 985.50,843.50 993.50,845.50 1001.50,859.80 1009.50,865.90 1017.50,878.10 1025.50,880.20 1033.50,879.60 1041.50,881.20 1049.50,859.20 1057.50,845.10 1065.50,842.00 1073.50,832.30 1081.50,832.30 1089.50,828.20 1097.50,819.60 1105.50,816.40 1113.50,817.40 1121.50,824.10 1129.50,819.60 1137.50,817.00 1145.50,813.50 1153.50,816.40 1161.50,827.20 1169.50,832.30 1177.50,833.30 1185.50,831.20 1193.50,823.10 1201.50,817.60 1209.50,823.10 1217.50,825.70 1225.50,824.50 1233.50,824.50 1241.50,829.20 1249.50,829.20 1257.50,826.20 1265.50,824.10 1273.50,820.40 1281.50,819.00 1289.50,828.20 1297.50,823.70 1305.50,827.20 1313.50,830.60" fill="none" stroke="#1e90ff" stroke-width="1" />
<rect x="0" y="578" width="1622" height="1" fill="#000" />
<rect x="0" y="580" width="1622" height="1" fill="#000" />
<rect x="0" y="763" width="1622" height="1" fill="#000" />
<rect x="0" y="765" width="1622" height="1" fill="#000" />
<rect x="0" y="925" width="1622" height="1" fill="#000" />
<rect x="1621" y="25" width="1" height="901" fill="#000" />
<rect x="0" y="25" width="1622" height="1" fill="#000" />
<rect x="1622" y="47" width="2" height="1" fill="#000" />
<text x="1627" y="50.8" font-size="9.5" fill="#000" text-anchor="start" font-weight="normal" textLength="33" lengthAdjust="spacingAndGlyphs" >30368.0</text>
<rect x="1622" y="146" width="2" height="1" fill="#000" />
<text x="1627" y="149.8" font-size="9.5" fill="#000" text-anchor="start" font-weight="normal" textLength="33" lengthAdjust="spacingAndGlyphs" >29257.0</text>
<rect x="1622" y="179" width="2" height="1" fill="#000" />
<text x="1627" y="182.8" font-size="9.5" fill="#000" text-anchor="start" font-weight="normal" textLength="33" lengthAdjust="spacingAndGlyphs" >28883.0</text>
<rect x="1622" y="212" width="2" height="1" fill="#000" />
<text x="1627" y="215.8" font-size="9.5" fill="#000" text-anchor="start" font-weight="normal" textLength="33" lengthAdjust="spacingAndGlyphs" >28509.0</text>
<rect x="1622" y="245" width="2" height="1" fill="#000" />
<text x="1627" y="248.8" font-size="9.5" fill="#000" text-anchor="start" font-weight="normal" textLength="33" lengthAdjust="spacingAndGlyphs" >28135.0</text>
<rect x="1622" y="278" width="2" height="1" fill="#000" />
<text x="1627" y="281.8" font-size="9.5" fill="#000" text-anchor="start" font-weight="normal" textLength="33" lengthAdjust="spacingAndGlyphs" >27772.0</text>
<rect x="1622" y="311" width="2" height="1" fill="#000" />
<text x="1627" y="314.8" font-size="9.5" fill="#000" text-anchor="start" font-weight="normal" textLength="33" lengthAdjust="spacingAndGlyphs" >27398.0</text>
<rect x="1622" y="344" width="2" height="1" fill="#000" />
<text x="1627" y="347.8" font-size="9.5" fill="#000" text-anchor="start" font-weight="normal" textLength="33" lengthAdjust="spacingAndGlyphs" >27024.0</text>
<rect x="1622" y="377" width="2" height="1" fill="#000" />
<text x="1627" y="380.8" font-size="9.5" fill="#000" text-anchor="start" font-weight="normal" textLength="33" lengthAdjust="spacingAndGlyphs" >26661.0</text>
<rect x="1622" y="410" width="2" height="1" fill="#000" />
<text x="1627" y="413.8" font-size="9.5" fill="#000" text-anchor="start" font-weight="normal" textLength="33" lengthAdjust="spacingAndGlyphs" >26287.0</text>
<rect x="1622" y="443" width="2" height="1" fill="#000" />
<text x="1627" y="446.8" font-size="9.5" fill="#000" text-anchor="start" font-weight="normal" textLength="33" lengthAdjust="spacingAndGlyphs" >25913.0</text>
<rect x="1622" y="476" width="2" height="1" fill="#000" />
<text x="1627" y="479.8" font-size="9.5" fill="#000" text-anchor="start" font-weight="normal" textLength="33" lengthAdjust="spacingAndGlyphs" >25550.0</text>
<rect x="1622" y="509" width="2" height="1" fill="#000" />
<text x="1627" y="512.8" font-size="9.5" fill="#000" text-anchor="start" font-weight="normal" textLength="33" lengthAdjust="spacingAndGlyphs" >25176.0</text>
<rect x="1622" y="542" width="2" height="1" fill="#000" />
<text x="1627" y="545.8" font-size="9.5" fill="#000" text-anchor="start" font-weight="normal" textLength="33" lengthAdjust="spacingAndGlyphs" >24802.0</text>
<rect x="1622" y="575" width="2" height="1" fill="#000" />
<text x="1627" y="578.8" font-size="9.5" fill="#000" text-anchor="start" font-weight="normal" textLength="33" lengthAdjust="spacingAndGlyphs" >24439.0</text>
<rect x="1622" y="80" width="2" height="1" fill="#000" />
<rect x="1622" y="113" width="2" height="1" fill="#000" />
<rect x="1623" y="29" width="41" height="11" fill="#ff0000" />
<text x="1627" y="37.7" font-size="9.5" fill="#fff" text-anchor="start" font-weight="normal" textLength="33" lengthAdjust="spacingAndGlyphs" >30493.1</text>
<rect x="1623" y="51" width="41" height="11" fill="#ff0000" />
<text x="1627" y="59.7" font-size="9.5" fill="#fff" text-anchor="start" font-weight="normal" textLength="33" lengthAdjust="spacingAndGlyphs" >30246.5</text>
<rect x="1623" y="74" width="41" height="11" fill="#000000" />
<text x="1627" y="82.7" font-size="9.5" fill="#fff" text-anchor="start" font-weight="normal" textLength="33" lengthAdjust="spacingAndGlyphs" >30002.0</text>
<rect x="1623" y="89" width="41" height="11" fill="#32cd32" />
<text x="1627" y="97.7" font-size="9.5" fill="#fff" text-anchor="start" font-weight="normal" textLength="33" lengthAdjust="spacingAndGlyphs" >29820.5</text>
<rect x="1623" y="110" width="41" height="11" fill="#0000ff" />
<text x="1627" y="118.7" font-size="9.5" fill="#fff" text-anchor="start" font-weight="normal" textLength="33" lengthAdjust="spacingAndGlyphs" >29585.1</text>
<rect x="1623" y="129" width="41" height="11" fill="#0000ff" />
<text x="1627" y="137.7" font-size="9.5" fill="#fff" text-anchor="start" font-weight="normal" textLength="33" lengthAdjust="spacingAndGlyphs" >29372.1</text>
<rect x="1622" y="582" width="2" height="1" fill="#000" />
<text x="1625" y="591" font-size="10" fill="#000" text-anchor="start" font-weight="normal" textLength="28" lengthAdjust="spacingAndGlyphs" >929.45</text>
<rect x="1622" y="705" width="2" height="1" fill="#000" />
<text x="1625" y="709" font-size="10" fill="#000" text-anchor="start" font-weight="normal" textLength="17.5" lengthAdjust="spacingAndGlyphs" >0.00</text>
<rect x="1622" y="762" width="2" height="1" fill="#000" />
<text x="1625" y="760" font-size="10" fill="#000" text-anchor="start" font-weight="normal" textLength="31" lengthAdjust="spacingAndGlyphs" >-436.65</text>
<rect x="1622" y="767" width="2" height="1" fill="#000" />
<text x="1625" y="776" font-size="10" fill="#000" text-anchor="start" font-weight="normal" textLength="15" lengthAdjust="spacingAndGlyphs" >100</text>
<rect x="1622" y="798" width="2" height="1" fill="#000" />
<text x="1625" y="802" font-size="10" fill="#000" text-anchor="start" font-weight="normal" textLength="10" lengthAdjust="spacingAndGlyphs" >80</text>
<rect x="1622" y="845" width="2" height="1" fill="#000" />
<text x="1625" y="849" font-size="10" fill="#000" text-anchor="start" font-weight="normal" textLength="10" lengthAdjust="spacingAndGlyphs" >50</text>
<rect x="1622" y="901" width="2" height="1" fill="#000" />
<text x="1625" y="905" font-size="10" fill="#000" text-anchor="start" font-weight="normal" textLength="10" lengthAdjust="spacingAndGlyphs" >15</text>
<rect x="1622" y="924" width="2" height="1" fill="#000" />
<text x="1625" y="922" font-size="10" fill="#000" text-anchor="start" font-weight="normal" textLength="5" lengthAdjust="spacingAndGlyphs" >0</text>
<rect x="1666" y="21" width="2" height="919" fill="#f0f0f0" />
<rect x="-7" y="926" width="1" height="4" fill="#000" />
<text x="-7.5" y="938" font-size="10" fill="#000" text-anchor="start" font-weight="normal" textLength="45.77" lengthAdjust="spacingAndGlyphs" >1 Jun 2020</text>
<rect x="57" y="926" width="1" height="4" fill="#000" />
<text x="56.5" y="938" font-size="10" fill="#000" text-anchor="start" font-weight="normal" textLength="50.92" lengthAdjust="spacingAndGlyphs" >10 Jun 2020</text>
<rect x="121" y="926" width="1" height="4" fill="#000" />
<text x="120.5" y="938" font-size="10" fill="#000" text-anchor="start" font-weight="normal" textLength="50.92" lengthAdjust="spacingAndGlyphs" >19 Jun 2020</text>
<rect x="185" y="926" width="1" height="4" fill="#000" />
<text x="184.5" y="938" font-size="10" fill="#000" text-anchor="start" font-weight="normal" textLength="50.92" lengthAdjust="spacingAndGlyphs" >29 Jun 2020</text>
<rect x="249" y="926" width="1" height="4" fill="#000" />
<text x="248.5" y="938" font-size="10" fill="#000" text-anchor="start" font-weight="normal" textLength="42.68" lengthAdjust="spacingAndGlyphs" >8 Jul 2020</text>
<rect x="313" y="926" width="1" height="4" fill="#000" />
<text x="312.5" y="938" font-size="10" fill="#000" text-anchor="start" font-weight="normal" textLength="47.83" lengthAdjust="spacingAndGlyphs" >17 Jul 2020</text>
<rect x="377" y="926" width="1" height="4" fill="#000" />
<text x="376.5" y="938" font-size="10" fill="#000" text-anchor="start" font-weight="normal" textLength="47.83" lengthAdjust="spacingAndGlyphs" >27 Jul 2020</text>
<rect x="441" y="926" width="1" height="4" fill="#000" />
<text x="440.5" y="938" font-size="10" fill="#000" text-anchor="start" font-weight="normal" textLength="46.81" lengthAdjust="spacingAndGlyphs" >5 Aug 2020</text>
<rect x="505" y="926" width="1" height="4" fill="#000" />
<text x="504.5" y="938" font-size="10" fill="#000" text-anchor="start" font-weight="normal" textLength="51.95" lengthAdjust="spacingAndGlyphs" >14 Aug 2020</text>
<rect x="569" y="926" width="1" height="4" fill="#000" />
<text x="568.5" y="938" font-size="10" fill="#000" text-anchor="start" font-weight="normal" textLength="51.95" lengthAdjust="spacingAndGlyphs" >24 Aug 2020</text>
<rect x="633" y="926" width="1" height="4" fill="#000" />
<text x="632.5" y="938" font-size="10" fill="#000" text-anchor="start" font-weight="normal" textLength="47.32" lengthAdjust="spacingAndGlyphs" >2 Sep 2020</text>
<rect x="697" y="926" width="1" height="4" fill="#000" />
<text x="696.5" y="938" font-size="10" fill="#000" text-anchor="start" font-weight="normal" textLength="51.77" lengthAdjust="spacingAndGlyphs" >11 Sep 2020</text>
<rect x="761" y="926" width="1" height="4" fill="#000" />
<text x="760.5" y="938" font-size="10" fill="#000" text-anchor="start" font-weight="normal" textLength="52.46" lengthAdjust="spacingAndGlyphs" >21 Sep 2020</text>
<rect x="825" y="926" width="1" height="4" fill="#000" />
<text x="824.5" y="938" font-size="10" fill="#000" text-anchor="start" font-weight="normal" textLength="52.46" lengthAdjust="spacingAndGlyphs" >30 Sep 2020</text>
<rect x="889" y="926" width="1" height="4" fill="#000" />
<text x="888.5" y="938" font-size="10" fill="#000" text-anchor="start" font-weight="normal" textLength="45.25" lengthAdjust="spacingAndGlyphs" >9 Oct 2020</text>
<rect x="953" y="926" width="1" height="4" fill="#000" />
<text x="952.5" y="938" font-size="10" fill="#000" text-anchor="start" font-weight="normal" textLength="50.39" lengthAdjust="spacingAndGlyphs" >19 Oct 2020</text>
<rect x="1017" y="926" width="1" height="4" fill="#000" />
<text x="1016.5" y="938" font-size="10" fill="#000" text-anchor="start" font-weight="normal" textLength="50.39" lengthAdjust="spacingAndGlyphs" >28 Oct 2020</text>
<rect x="1081" y="926" width="1" height="4" fill="#000" />
<text x="1080.5" y="938" font-size="10" fill="#000" text-anchor="start" font-weight="normal" textLength="47.31" lengthAdjust="spacingAndGlyphs" >6 Nov 2020</text>
<rect x="1145" y="926" width="1" height="4" fill="#000" />
<text x="1144.5" y="938" font-size="10" fill="#000" text-anchor="start" font-weight="normal" textLength="52.45" lengthAdjust="spacingAndGlyphs" >16 Nov 2020</text>
<rect x="1209" y="926" width="1" height="4" fill="#000" />
<text x="1208.5" y="938" font-size="10" fill="#000" text-anchor="start" font-weight="normal" textLength="52.45" lengthAdjust="spacingAndGlyphs" >25 Nov 2020</text>
<rect x="1273" y="926" width="1" height="4" fill="#000" />
<text x="1272.5" y="938" font-size="10" fill="#000" text-anchor="start" font-weight="normal" textLength="47.31" lengthAdjust="spacingAndGlyphs" >4 Dec 2020</text>
<text x="-1" y="593" font-size="10" fill="#000" text-anchor="start" font-weight="normal" textLength="126" lengthAdjust="spacingAndGlyphs" >MACD(12,26,9) 348.76 392.15</text>
<text x="-1" y="777" font-size="10" fill="#000" text-anchor="start" font-weight="normal" textLength="67" lengthAdjust="spacingAndGlyphs" >RSI(14) 59.3541</text>
<text x="8.6" y="37" font-size="10" fill="#000" text-anchor="start" font-weight="normal" textLength="47.5" lengthAdjust="spacingAndGlyphs" >DJ30-,Daily</text>
<text x="63.3" y="37" font-size="10" fill="#000" text-anchor="start" font-weight="normal" textLength="140.5" lengthAdjust="spacingAndGlyphs" >30090.0 30146.0 29866.0 30002.0</text>
<path d="M0,36.5 L3.5,36.5 L0.5,32.5 Z" fill="#000" shape-rendering="auto"/>
<g shape-rendering="auto">
<path d="M1322,26 L1331,26 L1326.5,31 Z" fill="#c0c0c0"/>
<rect x="1101" y="93" width="270" height="8" fill="#00ff00"/>
<rect x="970" y="95" width="8" height="1" fill="#ff0000"/>
<rect x="977.5" y="92.5" width="3" height="5" fill="#ffffff" stroke="#ff0000" stroke-width="1"/>
<rect x="980.5" y="79.5" width="99" height="32" fill="#ffffff" stroke="#ff0000" stroke-width="1"/>
<text x="981.5" y="106.6" font-size="30.5" fill="#ff0000" textLength="97" lengthAdjust="spacingAndGlyphs">29820.5</text>
<path d="M1293,49 L1314,83" stroke="#ff0000" stroke-width="3.2" stroke-linecap="round" fill="none"/>
<path d="M1315,85 L1305,78 L1313,73 Z" fill="#ff0000" stroke="#ff0000" stroke-width="2" stroke-linejoin="round"/>
<rect x="1393.5" y="100.5" width="80" height="16" fill="#ffffff" stroke="#404040" stroke-width="1"/>
<rect x="1394" y="116" width="80" height="1" fill="#c8b040"/>
<path d="M1400.00,101.50 L1396.00,105.00 M1398.00,103.00 L1404.00,103.00 L1398.00,108.00 M1399.00,105.00 L1401.00,106.50 M1402.00,107.00 L1396.00,114.00 M1399.00,109.50 L1406.00,109.50 L1397.00,114.50 M1400.00,111.50 L1402.00,113.00" fill="none" stroke="#00ff00" stroke-width="1.2" stroke-linecap="square"/>
<path d="M1416.80,101.00 L1416.80,102.50 M1410.80,105.00 L1410.80,103.00 L1422.80,103.00 L1422.80,105.00 M1414.80,104.50 L1412.80,107.00 M1418.80,104.50 L1420.80,107.00 M1412.80,108.50 L1420.80,108.50 M1416.80,108.50 L1416.80,113.50 M1410.80,113.50 L1422.80,113.50" fill="none" stroke="#00ff00" stroke-width="1.2" stroke-linecap="square"/>
<path d="M1425.60,103.50 L1430.60,103.50 M1428.60,101.00 L1426.60,108.00 L1430.60,108.00 M1428.60,105.50 L1428.60,114.00 M1425.60,111.00 L1431.10,110.00 M1431.60,104.00 L1438.60,104.00 M1435.10,101.00 L1434.10,109.00 M1431.60,107.00 L1438.60,107.00 M1432.60,109.50 L1437.60,109.50 L1434.60,112.00 M1434.10,112.00 L1436.60,114.50" fill="none" stroke="#00ff00" stroke-width="1.2" stroke-linecap="square"/>
<path d="M1441.40,105.00 L1446.40,105.00 M1443.90,101.00 L1443.90,114.00 L1442.90,113.50 M1441.40,110.00 L1446.40,108.00 M1453.90,101.50 L1448.40,103.00 M1448.40,103.00 L1448.40,109.00 L1447.40,114.00 M1448.40,107.00 L1454.40,107.00 M1451.90,107.00 L1451.90,114.50" fill="none" stroke="#00ff00" stroke-width="1.2" stroke-linecap="square"/>
<path d="M1463.20,101.00 L1463.20,107.00 M1463.20,104.00 L1468.20,104.00 M1459.20,107.00 L1469.20,107.00 L1469.20,111.00 L1459.20,111.00 L1459.20,107.00 M1458.70,112.50 L1457.70,114.50 M1462.20,112.50 L1462.70,114.50 M1465.70,112.50 L1466.20,114.50 M1469.20,112.50 L1470.20,114.50" fill="none" stroke="#00ff00" stroke-width="1.2" stroke-linecap="square"/>
</g>
<defs>
<linearGradient id="gtop" x1="0" y1="0" x2="0" y2="1"><stop offset="0" stop-color="#fa5a5a"/><stop offset="1" stop-color="#e23434"/></linearGradient>
<linearGradient id="gbot" x1="0" y1="0" x2="0" y2="1"><stop offset="0" stop-color="#e03232"/><stop offset="0.5" stop-color="#cc1c1c"/><stop offset="1" stop-color="#b00404"/></linearGradient>
</defs>
<g shape-rendering="crispEdges">
<rect x="0" y="44" width="217" height="66" fill="#ffffff"/>
<rect x="0" y="45" width="48" height="24" fill="url(#gtop)"/>
<rect x="0" y="45" width="48" height="1" fill="#c81818"/>
<rect x="0" y="68" width="45" height="1" fill="#a01010"/>
<rect x="164" y="45" width="51" height="24" fill="url(#gtop)"/>
<rect x="164" y="45" width="51" height="1" fill="#c81818"/>
<rect x="167" y="68" width="45" height="1" fill="#a01010"/>
<rect x="0" y="69" width="105" height="40" fill="url(#gbot)"/>
<rect x="107" y="69" width="108" height="40" fill="url(#gbot)"/>
<rect x="214" y="45" width="1" height="64" fill="#b80a0a"/>
<rect x="0" y="69" width="44" height="1" fill="#f07070"/>
<rect x="167" y="69" width="45" height="1" fill="#f07070"/>
<rect x="0" y="68" width="44" height="1" fill="#8a0a0a"/>
<rect x="167" y="68" width="45" height="1" fill="#8a0a0a"/>
<rect x="50" y="45" width="111" height="22" fill="#b4b4b4"/>
<rect x="51" y="46" width="20" height="20" fill="#e6e6e6"/>
<rect x="72" y="46" width="67" height="20" fill="#ffffff"/>
<rect x="140" y="46" width="20" height="20" fill="#e6e6e6"/>
</g>
<g shape-rendering="auto">
<path d="M58,55 L63,55 L60.5,58 Z" fill="#000"/>
<path d="M147,58 L152,58 L149.5,55 Z" fill="#000"/>
<text x="135" y="60" font-size="12" fill="#000" text-anchor="end" textLength="23" lengthAdjust="spacingAndGlyphs">1.00</text>
<text x="8.5" y="61" font-size="12" fill="#ffffff" textLength="25.5" lengthAdjust="spacingAndGlyphs">SELL</text>
<text x="176.5" y="61" font-size="12" fill="#ffffff" textLength="23.5" lengthAdjust="spacingAndGlyphs">BUY</text>
<text x="12.5" y="100" font-size="12.5" font-weight="bold" fill="#ffffff" textLength="34.5" lengthAdjust="spacingAndGlyphs">30000</text>
<text x="122.5" y="100" font-size="12.5" font-weight="bold" fill="#ffffff" textLength="34" lengthAdjust="spacingAndGlyphs">30017</text>
<text x="48.8" y="100" font-size="33" fill="#ffffff" textLength="25.7" lengthAdjust="spacingAndGlyphs">.5</text>
<text x="159.3" y="100" font-size="33" fill="#ffffff" textLength="25.7" lengthAdjust="spacingAndGlyphs">.5</text>
</g>
<g shape-rendering="auto">
<rect x="0" y="0" width="1668" height="21" fill="#f0f0f0"/>
<rect x="0" y="20" width="1668" height="1" fill="#f4f4f4"/>
<rect x="0" y="21" width="1668" height="1" fill="#8c8c8c"/>
<rect x="0" y="22" width="1668" height="1" fill="#6b6b6b"/>
<rect x="0" y="23" width="1668" height="2" fill="#ffffff"/>
<rect x="0" y="25" width="1621" height="1" fill="#000000"/>
<rect x="218" y="0" width="1" height="19" fill="#a0a0a0"/>
<rect x="256" y="0" width="1" height="19" fill="#a0a0a0"/>
<rect x="313" y="0" width="1" height="19" fill="#a0a0a0"/>
<rect x="403" y="0" width="1" height="19" fill="#a0a0a0"/>
<rect x="465" y="0" width="1" height="19" fill="#a0a0a0"/>
<rect x="586" y="0" width="1" height="19" fill="#a0a0a0"/>
<rect x="596" y="0" width="1" height="19" fill="#a0a0a0"/>
<rect x="653" y="0" width="1" height="19" fill="#a0a0a0"/>
<rect x="892" y="0" width="1" height="19" fill="#a0a0a0"/>
<rect x="1153" y="0" width="1" height="19" fill="#a0a0a0"/>
<rect x="587" y="0" width="1" height="20" fill="#ffffff"/>
<rect x="222" y="2" width="3" height="1" fill="#9a9a9a"/>
<rect x="222" y="4" width="3" height="1" fill="#9a9a9a"/>
<rect x="222" y="6" width="3" height="1" fill="#9a9a9a"/>
<rect x="222" y="8" width="3" height="1" fill="#9a9a9a"/>
<rect x="222" y="10" width="3" height="1" fill="#9a9a9a"/>
<rect x="222" y="12" width="3" height="1" fill="#9a9a9a"/>
<rect x="222" y="14" width="3" height="1" fill="#9a9a9a"/>
<rect x="222" y="16" width="3" height="1" fill="#9a9a9a"/>
<rect x="590" y="2" width="3" height="1" fill="#9a9a9a"/>
<rect x="590" y="4" width="3" height="1" fill="#9a9a9a"/>
<rect x="590" y="6" width="3" height="1" fill="#9a9a9a"/>
<rect x="590" y="8" width="3" height="1" fill="#9a9a9a"/>
<rect x="590" y="10" width="3" height="1" fill="#9a9a9a"/>
<rect x="590" y="12" width="3" height="1" fill="#9a9a9a"/>
<rect x="590" y="14" width="3" height="1" fill="#9a9a9a"/>
<rect x="590" y="16" width="3" height="1" fill="#9a9a9a"/>
<rect x="896" y="2" width="3" height="1" fill="#9a9a9a"/>
<rect x="896" y="4" width="3" height="1" fill="#9a9a9a"/>
<rect x="896" y="6" width="3" height="1" fill="#9a9a9a"/>
<rect x="896" y="8" width="3" height="1" fill="#9a9a9a"/>
<rect x="896" y="10" width="3" height="1" fill="#9a9a9a"/>
<rect x="896" y="12" width="3" height="1" fill="#9a9a9a"/>
<rect x="896" y="14" width="3" height="1" fill="#9a9a9a"/>
<rect x="896" y="16" width="3" height="1" fill="#9a9a9a"/>
<rect x="257" y="0" width="24" height="19" fill="#f6f6f6"/>
<rect x="256" y="0" width="1" height="19" fill="#a8a8a8"/>
<rect x="408" y="0" width="25" height="19" fill="#f6f6f6"/>
<rect x="407" y="0" width="1" height="19" fill="#a8a8a8"/>
<rect x="436" y="0" width="25" height="19" fill="#f6f6f6"/>
<rect x="435" y="0" width="1" height="19" fill="#a8a8a8"/>
<rect x="598" y="0" width="23" height="19" fill="#f6f6f6"/>
<rect x="597" y="0" width="1" height="19" fill="#a8a8a8"/>
<rect x="1071" y="0" width="24" height="19" fill="#f6f6f6"/>
<rect x="1070" y="0" width="1" height="19" fill="#a8a8a8"/>
<path d="M0.5,1.5 h2.5 l1.5,1.5 v5 h-4 z" fill="#fafafa" stroke="#707070" stroke-width="1"/>
<path d="M0,7 h3.5 v3 h4.5 v4.5 h-4.5 v4.5 h-3.5 z" fill="#22c022" stroke="#118811" stroke-width="1"/>
<path d="M14.00,1.50 L14.50,2.50 M11.50,3.50 L16.50,3.50 M12.50,4.50 L13.00,5.50 M15.50,4.50 L15.00,5.50 M11.00,6.50 L17.00,6.50 M11.50,8.50 L16.50,8.50 M14.00,6.50 L14.00,12.50 M14.00,9.50 L11.50,12.00 M14.50,9.50 L16.50,11.00 M22.00,1.50 L18.50,2.50 M18.50,2.50 L18.50,9.50 L17.50,12.50 M18.50,6.50 L22.50,6.50 M21.00,6.50 L21.00,12.50" fill="none" stroke="#000" stroke-width="1.1" stroke-linecap="square"/>
<path d="M24.00,2.00 L25.00,3.00 M23.00,5.50 L25.00,5.50 L25.00,11.50 L26.50,10.00 M27.50,2.50 L34.50,2.50 M31.50,2.50 L31.50,12.50 L30.00,12.00" fill="none" stroke="#000" stroke-width="1.1" stroke-linecap="square"/>
<path d="M38.00,1.50 L39.00,2.50 M44.00,1.50 L43.00,2.50 M37.50,3.50 L44.50,3.50 L44.50,9.00 L37.50,9.00 L37.50,3.50 M37.50,6.25 L44.50,6.25 M41.00,3.50 L41.00,12.50 M35.00,10.75 L46.50,10.75" fill="none" stroke="#000" stroke-width="1.1" stroke-linecap="square"/>
<defs><linearGradient id="gbook" x1="0" y1="0" x2="1" y2="1"><stop offset="0" stop-color="#f6dc50"/><stop offset="1" stop-color="#c8901c"/></linearGradient></defs>
<path d="M59.5,11 L64.5,2.5 L74.3,9.3 L74.3,11.5 L68,16.6 L66.5,16.4 Z" fill="url(#gbook)" stroke="#a06c18" stroke-width="1" stroke-linejoin="round"/>
<path d="M61,12.5 L67.5,15.5 L73.5,10.5" stroke="#d8a838" stroke-width="0.8" fill="none"/>
<rect x="89.5" y="1.5" width="10" height="9" fill="#1e8fff" stroke="#0a5fc0" stroke-width="1"/>
<rect x="93" y="4" width="5" height="1.5" fill="#ffffff"/>
<path d="M88,15.5 Q87,11.5 91,12 Q92,8.5 96.5,9.5 Q100,9 100.5,12 Q103.5,12.5 102.5,15.5 Z" fill="#eef2fa" stroke="#4868a8" stroke-width="1"/>
<circle cx="123" cy="9" r="7.5" fill="none" stroke="#a8c8a8" stroke-width="1"/>
<path d="M117,13 A6.5,6.5 0 0 1 120,3" fill="none" stroke="#3060c8" stroke-width="1"/>
<path d="M119.5,11.5 A4,4 0 0 1 121,5.5" fill="none" stroke="#3060c8" stroke-width="1"/>
<path d="M128,4 A7,7 0 0 1 126,16" fill="none" stroke="#60a060" stroke-width="1.2"/>
<circle cx="123" cy="8.5" r="1.6" fill="#2050c0"/>
<path d="M123,9 V17" stroke="#20a020" stroke-width="1.3"/>
<path d="M145,8 L156,8 L153,16 L148,16 Z" fill="#f2dc60" stroke="#c0a030" stroke-width="1"/>
<ellipse cx="150" cy="5" rx="7.5" ry="2.8" fill="#5aa8e0" stroke="#3070b0" stroke-width="0.8"/>
<ellipse cx="150" cy="3.5" rx="3.8" ry="2.8" fill="#70b8ea"/>
<circle cx="154.5" cy="12.8" r="4" fill="#e02818" stroke="#b01010" stroke-width="0.6"/>
<rect x="153" y="11.3" width="3" height="3" fill="#ffffff"/>
<path d="M169.50,1.00 L168.50,2.50 M166.00,3.50 L174.00,3.50 L174.00,12.50 L166.00,12.50 L166.00,3.50 M166.00,6.50 L174.00,6.50 M166.00,9.50 L174.00,9.50" fill="none" stroke="#000" stroke-width="1.1" stroke-linecap="square"/>
<path d="M176.50,2.50 L181.00,2.50 M176.00,5.00 L181.50,5.00 M178.50,5.00 L176.50,10.00 L181.00,9.50 M180.00,8.00 L181.00,10.00 M182.00,4.50 L187.00,4.50 L186.50,12.50 L185.50,12.00 M184.50,1.50 L184.50,7.00 L182.50,12.50" fill="none" stroke="#000" stroke-width="1.1" stroke-linecap="square"/>
<path d="M194.00,1.00 L194.00,2.50 M188.50,3.50 L199.00,3.50 M192.00,5.00 L190.00,7.00 M196.00,5.00 L198.00,7.00 M191.00,7.50 L198.50,12.50 M197.00,7.50 L189.50,12.50" fill="none" stroke="#000" stroke-width="1.1" stroke-linecap="square"/>
<path d="M202.50,1.50 L209.00,1.50 L209.00,6.00 L202.50,6.00 L202.50,1.50 M202.50,3.75 L209.00,3.75 M203.50,7.00 L201.00,10.00 M203.00,8.50 L210.50,8.50 L210.00,12.50 L209.00,12.00 M206.00,9.00 L203.50,12.00 M208.50,9.00 L206.00,12.50" fill="none" stroke="#000" stroke-width="1.1" stroke-linecap="square"/>
<path d="M236.5,3 V17 M234,14.5 H248" stroke="#505050" stroke-width="1.2" fill="none"/>
<path d="M234.5,5 L236.5,2.5 L238.5,5" stroke="#505050" stroke-width="1" fill="none"/>
<path d="M245.5,12.5 L248,14.5 L245.5,16.5" stroke="#505050" stroke-width="1" fill="none"/>
<path d="M242.5,4.5 V12.5 M242.5,5 H245 M242.5,12 H240" stroke="#119911" stroke-width="1.2" fill="none"/>
<path d="M264.5,3 V17 M262,14.5 H276" stroke="#505050" stroke-width="1.2" fill="none"/>
<path d="M262.5,5 L264.5,2.5 L266.5,5" stroke="#505050" stroke-width="1" fill="none"/>
<path d="M273.5,12.5 L276,14.5 L273.5,16.5" stroke="#505050" stroke-width="1" fill="none"/>
<path d="M270.5,1 V13" stroke="#118811" stroke-width="1"/><rect x="268.5" y="3.5" width="4" height="7" fill="#3ae03a" stroke="#118811" stroke-width="1"/>
<path d="M292.5,3 V17 M290,14.5 H304" stroke="#505050" stroke-width="1.2" fill="none"/>
<path d="M290.5,5 L292.5,2.5 L294.5,5" stroke="#505050" stroke-width="1" fill="none"/>
<path d="M301.5,12.5 L304,14.5 L301.5,16.5" stroke="#505050" stroke-width="1" fill="none"/>
<path d="M291,11.5 Q294,6 297,6.5 Q299,7 302.5,10.5" stroke="#22a022" stroke-width="1.1" fill="none"/>
<path d="M332,11 L337,16" stroke="#b89a20" stroke-width="2.6"/>
<circle cx="328" cy="7" r="5.5" fill="#d8ecf8" stroke="#3a80c8" stroke-width="1.2"/>
<path d="M325,7 H331" stroke="#3a78a8" stroke-width="1.6"/>
<path d="M328,4 V10" stroke="#3a78a8" stroke-width="1.6"/>
<path d="M360,11 L365,16" stroke="#b89a20" stroke-width="2.6"/>
<circle cx="356" cy="7" r="5.5" fill="#d8ecf8" stroke="#3a80c8" stroke-width="1.2"/>
<path d="M353,7 H359" stroke="#3a78a8" stroke-width="1.6"/>
<rect x="378" y="1" width="8" height="8" fill="#2aa02a"/>
<rect x="379.5" y="4.5" width="5" height="3" fill="#ffffff"/>
<rect x="386" y="1" width="8" height="8" fill="#2a5ae0"/>
<rect x="387.5" y="4.5" width="5" height="3" fill="#ffffff"/>
<rect x="378" y="9" width="8" height="8" fill="#2a5ae0"/>
<rect x="379.5" y="12.5" width="5" height="3" fill="#ffffff"/>
<rect x="386" y="9" width="8" height="8" fill="#2aa02a"/>
<rect x="387.5" y="12.5" width="5" height="3" fill="#ffffff"/>
<path d="M416.5,3 V17 M414,14.5 H428" stroke="#505050" stroke-width="1.2" fill="none"/>
<path d="M414.5,5 L416.5,2.5 L418.5,5" stroke="#505050" stroke-width="1" fill="none"/>
<path d="M425.5,12.5 L428,14.5 L425.5,16.5" stroke="#505050" stroke-width="1" fill="none"/>
<path d="M421,5 L425,8.5 L421,12 Z" fill="#30c030" stroke="#119911" stroke-width="0.8"/>
<path d="M444.5,3 V17 M442,14.5 H456" stroke="#505050" stroke-width="1.2" fill="none"/>
<path d="M442.5,5 L444.5,2.5 L446.5,5" stroke="#505050" stroke-width="1" fill="none"/>
<path d="M453.5,12.5 L456,14.5 L453.5,16.5" stroke="#505050" stroke-width="1" fill="none"/>
<path d="M450.5,3 V12.5" stroke="#1a70c0" stroke-width="1.2"/><path d="M451.5,8.5 L456,8.5 M451.5,8.5 L454,6.5 M451.5,8.5 L454,10.5" stroke="#e05010" stroke-width="1.2" fill="none"/>
<path d="M475.5,1.5 h8 l3,3 v10 h-11 z" fill="#ffffff" stroke="#808080" stroke-width="1"/>
<path d="M478,5 Q476.5,8 478,12" stroke="#606060" stroke-width="0.8" fill="none"/>
<path d="M483.5,7 h3.5 v4 h4 v3.5 h-4 v4 h-3.5 v-4 h-4 v-3.5 h4 z" fill="#22cc22" stroke="#119911" stroke-width="0.8"/>
<path d="M497,8 L502,8 L499.5,11 Z" fill="#000"/>
<path d="M536,8 L541,8 L538.5,11 Z" fill="#000"/>
<path d="M575,8 L580,8 L577.5,11 Z" fill="#000"/>
<path d="M881,8 L886,8 L883.5,11 Z" fill="#000"/>
<circle cx="521" cy="9" r="7.5" fill="#1a68d0"/>
<circle cx="521" cy="9" r="5.3" fill="#f4f8ff"/>
<path d="M521,5.5 V9 H523.5" stroke="#202020" stroke-width="1" fill="none"/>
<rect x="552.5" y="2.5" width="15" height="13" fill="#ffffff" stroke="#3a78c8" stroke-width="1"/>
<rect x="553" y="3" width="14" height="2.5" fill="#5a98d8"/>
<path d="M553,10.5 H567" stroke="#3a78c8" stroke-width="1"/>
<path d="M554.5,8.5 L557,8 L559,7 L561,7.5 L563,7 L565.5,6.5" stroke="#b02010" stroke-width="1" fill="none"/>
<path d="M554.5,13.5 L557,13 L559,12 L561,13 L563,11.5 L565.5,13.5" stroke="#20a020" stroke-width="1" fill="none"/>
<path d="M604,2 L612.5,10 L609,10 L611,14.5 L609.5,15.5 L607.5,11 L604,13.5 Z" fill="#505050"/>
<path d="M629,9.5 H635 M638,9.5 H644 M636.5,2 V8 M636.5,11 V17" stroke="#505050" stroke-width="1.1"/>
<path d="M670.5,3.5 V15.5 M693,9.5 H705 M721,15.5 L733,4" stroke="#505050" stroke-width="1.1"/>
<path d="M746.5,10.5 L755.5,3 M748.5,15.5 L761,4.5 M748,9.5 L750,11.5 M751,7 L753,9 M754,4.5 L756,6.5 M750,14 L752,12.5 M753,11.5 L755,10 M756,9 L758,7.5" stroke="#505050" stroke-width="1" fill="none"/>
<text x="757.5" y="17.8" font-size="6.5" font-weight="bold" fill="#505050">E</text>
<path d="M776,2.5 H789" stroke="#505050" stroke-width="1" stroke-dasharray="1,1"/>
<path d="M776,5.5 H789" stroke="#505050" stroke-width="1" stroke-dasharray="1,1"/>
<path d="M776,9.5 H789" stroke="#505050" stroke-width="1" stroke-dasharray="1,1"/>
<path d="M776,13.5 H789" stroke="#505050" stroke-width="1" stroke-dasharray="1,1"/>
<text x="785.5" y="17.8" font-size="6.5" font-weight="bold" fill="#505050">F</text>
<text x="806.3" y="14" font-size="12" font-weight="bold" fill="#505050">A</text>
<rect x="833" y="2.5" width="12" height="13" fill="none" stroke="#505050" stroke-width="1" stroke-dasharray="1,1"/>
<text x="835" y="13.5" font-size="10.5" font-weight="bold" fill="#505050">T</text>
<path d="M860,6 L863.5,3 L867,6 L863.5,7.5 Z M867,14 L870.5,11 L874,14 L870.5,16 Z" fill="#505050"/>
<path d="M862,9 L864.5,12 L869,8" stroke="#505050" stroke-width="1.2" fill="none"/>
<text x="907" y="13" font-size="10" fill="#3a3a3a" textLength="13" lengthAdjust="spacingAndGlyphs">M1</text>
<text x="935" y="13" font-size="10" fill="#3a3a3a" textLength="14" lengthAdjust="spacingAndGlyphs">M5</text>
<text x="961" y="13" font-size="10" fill="#3a3a3a" textLength="18" lengthAdjust="spacingAndGlyphs">M15</text>
<text x="989" y="13" font-size="10" fill="#3a3a3a" textLength="19" lengthAdjust="spacingAndGlyphs">M30</text>
<text x="1021" y="13" font-size="10" fill="#3a3a3a" textLength="11" lengthAdjust="spacingAndGlyphs">H1</text>
<text x="1048" y="13" font-size="10" fill="#3a3a3a" textLength="12" lengthAdjust="spacingAndGlyphs">H4</text>
<text x="1076.5" y="13" font-size="10" fill="#3a3a3a" textLength="11.5" lengthAdjust="spacingAndGlyphs">D1</text>
<text x="1104" y="13" font-size="10" fill="#3a3a3a" textLength="14" lengthAdjust="spacingAndGlyphs">W1</text>
<text x="1130.5" y="13" font-size="10" fill="#3a3a3a" textLength="14.5" lengthAdjust="spacingAndGlyphs">MN</text>
<circle cx="1623.6" cy="6.3" r="3.6" fill="#ffffff" stroke="#2a62d0" stroke-width="1.4"/>
<path d="M1620.8,9.3 L1616.5,13.6" stroke="#2050c8" stroke-width="2.6" stroke-linecap="round"/>
<path d="M1657.5,10.5 L1659.5,12.5 L1659,10" fill="#707070"/>
<ellipse cx="1656" cy="6" rx="6.3" ry="4.4" fill="#f2f2f6" stroke="#7a7a7a" stroke-width="1"/>
<ellipse cx="1647.3" cy="10" rx="5.2" ry="3.9" fill="#f2f2f6" stroke="#7a7a7a" stroke-width="1"/>
<path d="M1645,13.5 L1644.5,15.5 L1647,13.8" fill="#606060" stroke="#606060" stroke-width="0.8"/>
</g>
</svg></body></html>
